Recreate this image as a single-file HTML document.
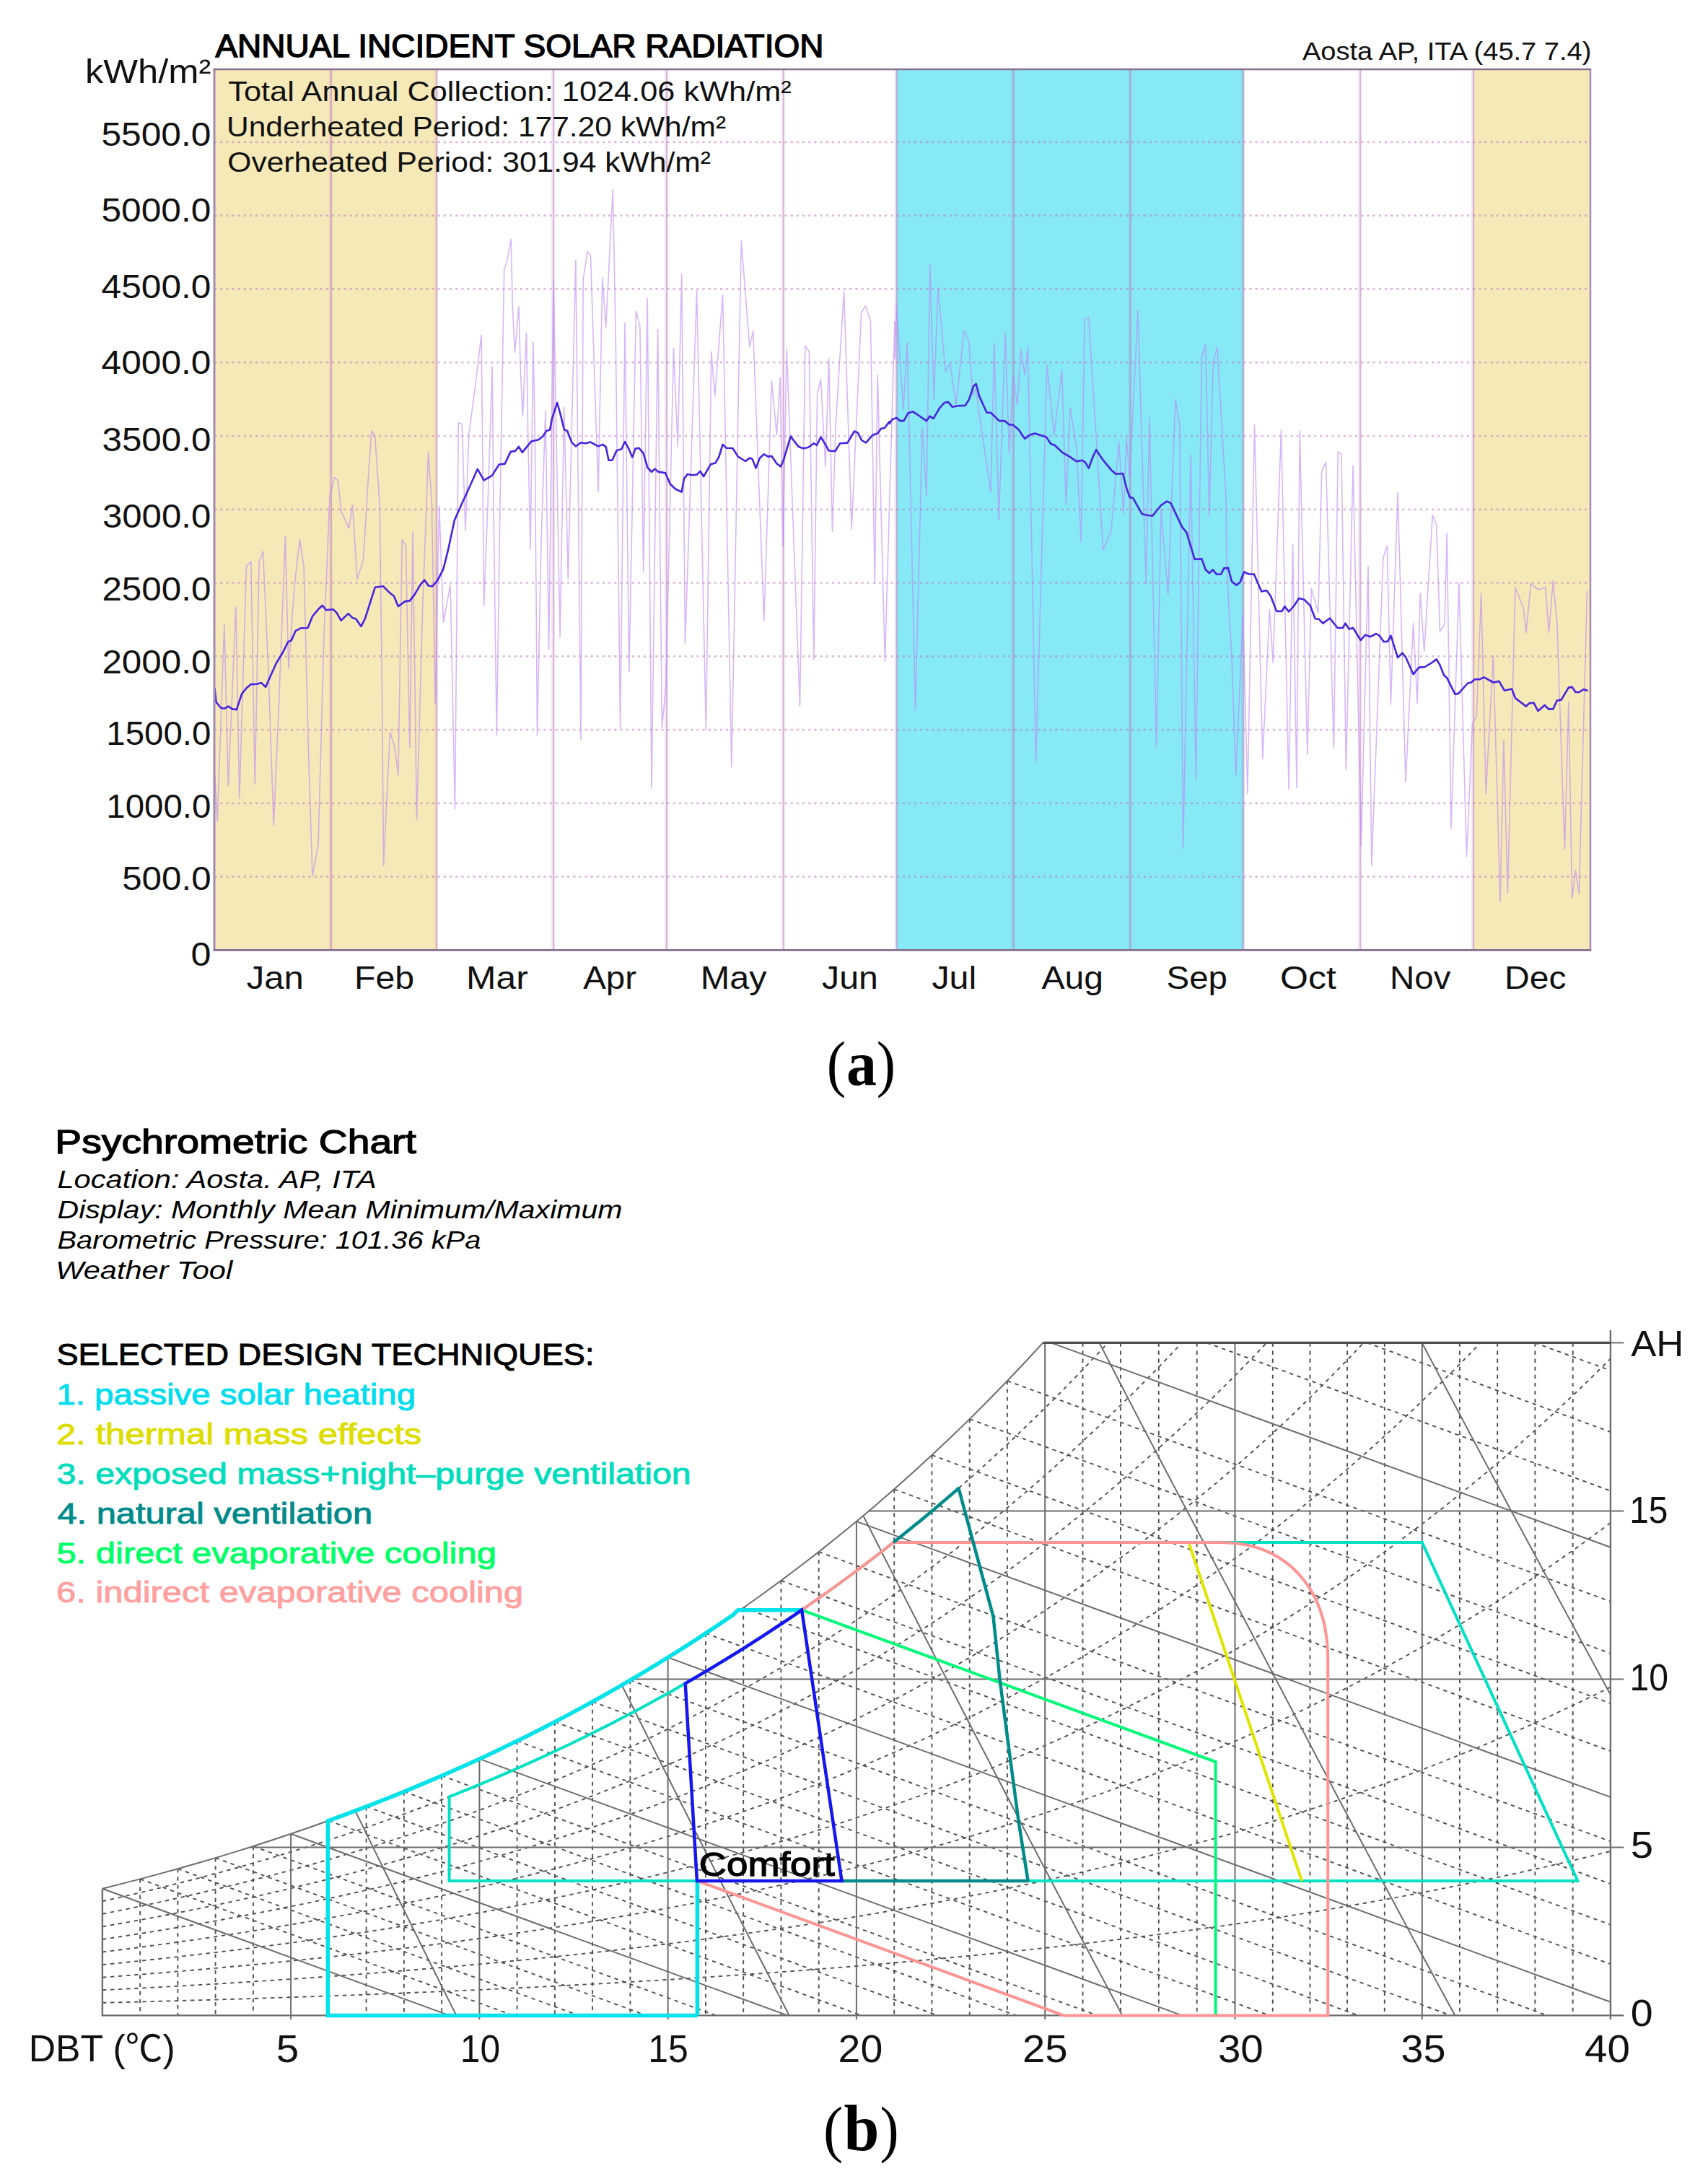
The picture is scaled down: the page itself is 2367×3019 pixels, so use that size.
<!DOCTYPE html>
<html><head><meta charset="utf-8"><title>Figure</title>
<style>html,body{margin:0;padding:0;background:#fff}svg{display:block}</style></head>
<body><svg width="2367" height="3019" viewBox="0 0 2367 3019">
<rect width="2367" height="3019" fill="#fff"/>
<g id="chartA">
<rect x="297.0" y="96.0" width="308.3" height="1220.4" fill="#F6E9B8"/>
<rect x="2042.0" y="96.0" width="162.0" height="1220.4" fill="#F6E9B8"/>
<rect x="1242.7" y="96.0" width="480.7" height="1220.4" fill="#86E9F5"/>
<line x1="297.0" y1="1214.6" x2="2204.0" y2="1214.6" stroke="#BA77BC" stroke-width="2.7" stroke-dasharray="3.2 4.95" stroke-opacity="0.5"/>
<line x1="297.0" y1="1112.9" x2="2204.0" y2="1112.9" stroke="#BA77BC" stroke-width="2.7" stroke-dasharray="3.2 4.95" stroke-opacity="0.5"/>
<line x1="297.0" y1="1011.1" x2="2204.0" y2="1011.1" stroke="#BA77BC" stroke-width="2.7" stroke-dasharray="3.2 4.95" stroke-opacity="0.5"/>
<line x1="297.0" y1="909.3" x2="2204.0" y2="909.3" stroke="#BA77BC" stroke-width="2.7" stroke-dasharray="3.2 4.95" stroke-opacity="0.5"/>
<line x1="297.0" y1="807.5" x2="2204.0" y2="807.5" stroke="#BA77BC" stroke-width="2.7" stroke-dasharray="3.2 4.95" stroke-opacity="0.5"/>
<line x1="297.0" y1="705.8" x2="2204.0" y2="705.8" stroke="#BA77BC" stroke-width="2.7" stroke-dasharray="3.2 4.95" stroke-opacity="0.5"/>
<line x1="297.0" y1="604.0" x2="2204.0" y2="604.0" stroke="#BA77BC" stroke-width="2.7" stroke-dasharray="3.2 4.95" stroke-opacity="0.5"/>
<line x1="297.0" y1="502.2" x2="2204.0" y2="502.2" stroke="#BA77BC" stroke-width="2.7" stroke-dasharray="3.2 4.95" stroke-opacity="0.5"/>
<line x1="297.0" y1="400.4" x2="2204.0" y2="400.4" stroke="#BA77BC" stroke-width="2.7" stroke-dasharray="3.2 4.95" stroke-opacity="0.5"/>
<line x1="297.0" y1="298.7" x2="2204.0" y2="298.7" stroke="#BA77BC" stroke-width="2.7" stroke-dasharray="3.2 4.95" stroke-opacity="0.5"/>
<line x1="297.0" y1="196.9" x2="2204.0" y2="196.9" stroke="#BA77BC" stroke-width="2.7" stroke-dasharray="3.2 4.95" stroke-opacity="0.5"/>
<line x1="456.8" y1="96.0" x2="456.8" y2="1316.4" stroke="#BA77BC" stroke-width="2" stroke-opacity="0.16"/>
<line x1="459.0" y1="96.0" x2="459.0" y2="1316.4" stroke="#BA77BC" stroke-width="2.3" stroke-opacity="0.55"/>
<line x1="603.1" y1="96.0" x2="603.1" y2="1316.4" stroke="#BA77BC" stroke-width="2" stroke-opacity="0.16"/>
<line x1="605.3" y1="96.0" x2="605.3" y2="1316.4" stroke="#BA77BC" stroke-width="2.3" stroke-opacity="0.55"/>
<line x1="765.0" y1="96.0" x2="765.0" y2="1316.4" stroke="#BA77BC" stroke-width="2" stroke-opacity="0.16"/>
<line x1="767.2" y1="96.0" x2="767.2" y2="1316.4" stroke="#BA77BC" stroke-width="2.3" stroke-opacity="0.55"/>
<line x1="921.8" y1="96.0" x2="921.8" y2="1316.4" stroke="#BA77BC" stroke-width="2" stroke-opacity="0.16"/>
<line x1="924.0" y1="96.0" x2="924.0" y2="1316.4" stroke="#BA77BC" stroke-width="2.3" stroke-opacity="0.55"/>
<line x1="1083.7" y1="96.0" x2="1083.7" y2="1316.4" stroke="#BA77BC" stroke-width="2" stroke-opacity="0.16"/>
<line x1="1085.9" y1="96.0" x2="1085.9" y2="1316.4" stroke="#BA77BC" stroke-width="2.3" stroke-opacity="0.55"/>
<line x1="1240.5" y1="96.0" x2="1240.5" y2="1316.4" stroke="#BA77BC" stroke-width="2" stroke-opacity="0.16"/>
<line x1="1242.7" y1="96.0" x2="1242.7" y2="1316.4" stroke="#BA77BC" stroke-width="2.3" stroke-opacity="0.55"/>
<line x1="1402.4" y1="96.0" x2="1402.4" y2="1316.4" stroke="#BA77BC" stroke-width="2" stroke-opacity="0.16"/>
<line x1="1404.6" y1="96.0" x2="1404.6" y2="1316.4" stroke="#BA77BC" stroke-width="2.3" stroke-opacity="0.55"/>
<line x1="1564.4" y1="96.0" x2="1564.4" y2="1316.4" stroke="#BA77BC" stroke-width="2" stroke-opacity="0.16"/>
<line x1="1566.6" y1="96.0" x2="1566.6" y2="1316.4" stroke="#BA77BC" stroke-width="2.3" stroke-opacity="0.55"/>
<line x1="1721.1" y1="96.0" x2="1721.1" y2="1316.4" stroke="#BA77BC" stroke-width="2" stroke-opacity="0.16"/>
<line x1="1723.3" y1="96.0" x2="1723.3" y2="1316.4" stroke="#BA77BC" stroke-width="2.3" stroke-opacity="0.55"/>
<line x1="1883.1" y1="96.0" x2="1883.1" y2="1316.4" stroke="#BA77BC" stroke-width="2" stroke-opacity="0.16"/>
<line x1="1885.3" y1="96.0" x2="1885.3" y2="1316.4" stroke="#BA77BC" stroke-width="2.3" stroke-opacity="0.55"/>
<line x1="2039.8" y1="96.0" x2="2039.8" y2="1316.4" stroke="#BA77BC" stroke-width="2" stroke-opacity="0.16"/>
<line x1="2042.0" y1="96.0" x2="2042.0" y2="1316.4" stroke="#BA77BC" stroke-width="2.3" stroke-opacity="0.55"/>
<polyline points="297.5,1072.0 298.4,1086.8 301.2,1138.2 310.9,865.2 316.3,1088.4 326.9,841.1 331.8,1106.1 341.4,784.9 347.8,778.4 353.3,1086.8 359.1,778.4 364.5,764.0 371.9,929.4 379.3,1143.1 386.4,977.6 395.4,743.1 399.9,926.2 408.2,810.6 415.3,747.9 421.1,784.9 427.5,1041.9 433.0,1213.7 441.0,1170.4 449.0,881.2 457.0,688.5 463.5,661.2 468.3,666.0 473.1,709.4 483.7,731.9 488.5,699.7 495.0,802.5 503.6,775.2 510.1,666.0 514.9,596.9 519.7,605.0 526.1,698.1 529.3,945.5 531.6,1199.3 536.7,1090.1 540.6,1014.6 547.0,1035.4 551.8,1074.0 557.3,747.9 562.4,756.0 567.9,1035.4 572.1,736.7 577.5,1135.0 585.5,849.1 593.6,625.9 598.4,698.1 603.2,974.4 608.7,701.3 614.5,862.0 624.1,810.6 630.5,1120.6 635.3,585.7 640.2,587.3 645.0,735.1 649.8,601.8 658.0,540.0 667.1,464.3 668.5,600.0 670.7,839.5 676.0,700.0 682.2,507.6 684.0,700.0 688.3,1019.0 693.0,700.0 698.7,374.0 703.0,360.0 708.2,331.4 710.4,426.9 713.4,488.5 719.0,424.7 721.4,515.0 724.4,576.7 729.5,461.4 731.7,600.0 735.0,762.0 739.0,473.9 741.3,600.0 744.5,1019.4 750.0,750.0 756.0,569.3 760.6,900.5 767.0,388.7 776.1,882.5 781.8,564.5 787.3,802.2 797.9,360.5 805.0,1024.7 808.2,387.8 814.0,348.6 818.5,354.0 829.1,681.7 834.8,384.6 839.7,453.6 849.3,262.5 853.2,464.9 859.6,1009.3 866.0,447.2 871.8,930.6 881.4,431.1 886.9,452.0 891.7,792.5 897.2,413.5 903.0,1092.2 911.6,456.8 917.4,1007.9 922.9,950.0 933.5,482.5 939.3,619.1 944.7,379.7 949.5,892.1 965.6,402.2 978.4,1010.7 985.8,487.4 990.7,548.4 1001.6,408.7 1013.8,1062.7 1027.3,333.2 1038.8,480.9 1043.7,458.4 1058.8,860.0 1069.4,527.5 1076.4,603.0 1081.2,522.7 1085.1,757.2 1090.2,484.1 1108.5,978.4 1115.9,479.3 1121.4,487.4 1127.8,913.7 1132.6,545.2 1137.5,525.9 1143.9,646.4 1148.7,497.0 1153.5,736.3 1158.3,586.9 1169.6,403.8 1180.2,733.1 1193.7,432.7 1199.5,423.8 1206.5,445.6 1212.3,808.6 1216.2,519.5 1226.4,916.5 1239.9,445.6 1240.2,497.0 1242.2,423.1 1251.8,567.7 1257.3,474.5 1268.5,983.3 1278.2,593.4 1284.0,686.5 1288.8,366.9 1294.2,553.2 1300.0,399.0 1310.3,514.7 1316.7,503.4 1324.8,561.2 1336.0,458.4 1342.4,471.3 1348.2,548.4 1352.1,538.8 1373.0,681.7 1377.8,476.1 1384.2,720.3 1393.2,461.7 1398.7,628.7 1404.1,519.5 1409.9,561.2 1414.7,484.1 1420.2,519.5 1424.4,481.6 1435.6,1055.0 1451.0,506.6 1460.7,603.0 1471.6,513.1 1477.4,699.4 1483.1,564.5 1491.8,619.1 1498.2,750.8 1503.1,442.4 1508.8,439.8 1528.8,762.0 1540.0,734.7 1550.6,612.6 1557.0,712.2 1560.9,606.2 1565.7,660.8 1576.9,429.5 1588.2,808.6 1593.0,578.9 1602.6,1035.0 1609.1,705.8 1618.7,823.1 1629.0,553.2 1634.8,590.2 1639.6,1175.5 1650.2,630.3 1657.3,1080.8 1665.3,493.8 1670.7,477.1 1675.9,715.4 1681.3,500.2 1686.8,480.9 1699.0,689.7 1700.0,784.9 1707.1,913.4 1712.8,1074.0 1722.5,849.1 1728.9,1099.7 1738.5,588.9 1749.8,1051.5 1759.4,844.3 1764.2,918.2 1775.5,595.3 1786.1,1093.3 1791.6,754.4 1797.0,1091.7 1801.2,596.9 1811.8,1045.1 1817.3,815.4 1826.9,849.1 1831.7,653.2 1837.5,640.3 1848.4,1035.4 1854.2,625.9 1859.0,629.1 1865.4,1066.0 1875.1,645.1 1886.3,1172.0 1896.0,784.9 1900.8,1199.3 1916.8,773.6 1922.3,756.0 1927.4,976.0 1937.1,682.1 1948.0,1083.6 1958.6,863.6 1964.1,974.4 1968.2,821.8 1973.7,902.1 1985.3,713.6 1990.7,727.0 1995.5,874.8 2002.0,865.2 2005.2,738.3 2011.0,1147.9 2021.9,807.4 2032.5,1186.4 2040.5,1003.3 2046.3,992.1 2052.7,821.8 2059.2,1099.7 2069.4,908.5 2079.1,1249.1 2083.9,1025.8 2089.3,1237.8 2099.9,813.8 2111.2,842.7 2115.0,876.4 2121.5,809.0 2132.1,817.0 2141.7,813.8 2146.5,876.4 2152.3,804.8 2157.8,862.0 2168.4,1176.8 2173.8,972.8 2178.7,1244.2 2183.5,1205.7 2188.3,1237.8 2199.5,818.6" fill="none" stroke="#BC85F5" stroke-opacity="0.6" stroke-width="1.6" stroke-linejoin="round"/>
<polyline points="297.5,953.5 297.8,956.7 299.6,972.8 306.1,980.8 310.9,981.8 316.3,978.6 322.1,982.4 327.9,983.1 335.0,961.6 341.4,953.5 347.8,948.1 355.9,947.7 362.3,946.1 368.1,951.9 375.1,935.9 383.2,918.2 391.2,905.3 399.2,889.3 404.0,887.0 409.5,874.2 416.9,870.3 426.5,870.0 433.0,853.9 441.0,844.3 446.8,838.8 452.2,845.3 461.9,844.3 466.7,849.1 472.5,859.7 482.7,850.1 488.5,856.2 493.0,857.2 500.4,867.8 505.9,857.2 519.7,813.8 530.9,812.2 540.6,821.8 546.0,826.0 551.8,840.1 561.5,833.1 567.9,832.4 574.3,824.1 582.3,810.6 588.1,803.5 593.6,811.5 599.4,812.2 606.4,804.1 614.5,788.1 620.9,762.4 629.9,720.6 638.5,701.3 646.6,683.7 654.6,666.0 661.7,649.9 670.7,665.4 681.9,658.9 691.6,643.5 699.6,642.6 707.6,625.9 714.0,624.9 718.9,618.8 723.7,626.8 736.5,611.4 746.2,609.2 751.9,605.0 757.4,596.9 762.2,595.3 764.8,580.5 772.2,558.0 776.7,574.1 781.8,595.0 786.3,597.2 792.1,612.6 797.9,618.4 805.0,613.3 811.4,614.2 818.5,612.6 829.1,618.4 835.5,615.9 839.7,619.1 843.5,637.7 848.3,637.7 854.8,623.9 861.2,622.3 866.0,612.0 870.8,620.7 876.3,633.5 880.5,621.6 885.3,620.7 891.7,628.1 897.5,648.0 903.0,653.8 907.8,649.6 911.6,653.4 922.2,655.4 928.7,670.5 936.0,677.5 944.7,681.7 947.9,663.4 952.7,657.0 959.2,658.3 965.6,657.6 970.4,652.8 975.2,660.2 984.9,643.2 991.3,641.6 996.1,633.5 1001.6,615.9 1006.7,620.7 1015.4,621.0 1022.8,632.6 1033.1,639.0 1038.8,634.5 1042.7,636.1 1047.5,648.6 1053.0,634.5 1058.8,629.3 1064.5,632.6 1069.4,631.9 1076.4,642.2 1081.9,646.4 1086.1,636.7 1095.7,604.6 1100.5,611.0 1106.9,619.1 1113.4,621.3 1120.4,619.7 1127.8,614.2 1132.0,616.8 1137.5,605.6 1142.9,614.2 1148.7,624.5 1157.7,624.9 1164.1,614.2 1174.4,613.6 1184.0,597.5 1188.9,599.8 1194.3,610.1 1200.1,613.3 1209.7,602.4 1216.2,600.4 1221.0,594.0 1226.4,592.4 1232.2,584.4 1232.5,586.9 1236.4,581.2 1242.2,578.9 1247.7,583.1 1252.5,583.1 1258.3,572.5 1264.7,570.2 1271.8,574.7 1284.0,583.1 1288.5,576.7 1293.6,579.9 1302.3,565.1 1308.7,558.0 1314.2,557.1 1319.9,563.8 1328.0,562.2 1337.6,561.9 1343.1,553.2 1348.9,535.5 1352.7,531.7 1356.9,548.4 1367.5,571.8 1373.0,571.8 1384.8,583.1 1392.2,583.1 1398.7,588.5 1403.5,588.5 1411.5,595.0 1420.2,607.8 1427.6,602.4 1434.0,600.4 1442.0,603.0 1450.1,605.6 1456.5,615.2 1461.3,616.5 1472.5,627.1 1482.2,632.6 1491.8,639.3 1499.8,637.7 1504.0,640.6 1508.8,648.6 1514.3,633.5 1519.1,623.2 1528.8,637.7 1540.0,651.2 1546.4,656.7 1556.1,656.0 1560.9,675.3 1565.7,689.1 1569.9,689.7 1582.7,712.2 1589.8,713.8 1597.2,714.8 1609.1,700.0 1617.1,694.6 1622.6,697.1 1638.0,729.9 1644.4,737.9 1655.6,774.9 1665.3,774.2 1670.7,789.3 1675.9,794.1 1680.7,789.3 1686.2,795.8 1691.9,795.8 1696.4,787.1 1701.6,787.1 1701.9,786.5 1707.1,805.8 1713.5,810.6 1718.6,806.7 1724.1,792.3 1730.5,795.5 1737.9,795.5 1748.2,819.6 1755.3,818.0 1761.0,826.0 1769.1,846.9 1776.5,846.9 1780.3,840.1 1786.1,847.5 1793.2,839.5 1800.2,828.9 1807.6,830.8 1815.6,838.8 1822.7,857.2 1827.9,857.8 1833.3,863.6 1843.0,856.5 1853.6,870.0 1860.6,870.0 1864.5,863.6 1869.6,871.6 1875.1,870.0 1885.7,887.0 1892.1,879.6 1899.2,882.2 1907.2,878.0 1912.0,881.2 1917.8,889.3 1923.3,888.6 1927.4,880.6 1937.1,911.1 1943.5,904.7 1948.0,910.2 1958.6,934.2 1966.6,924.6 1974.7,924.0 1982.7,919.2 1990.7,913.4 1995.5,921.4 2001.3,935.9 2005.2,939.1 2016.4,961.6 2021.2,960.9 2034.1,946.5 2038.9,945.5 2043.7,941.3 2050.2,941.3 2056.6,938.4 2069.4,945.5 2077.5,943.9 2084.9,956.7 2095.1,954.5 2099.9,967.3 2115.0,978.6 2119.2,974.4 2125.6,973.8 2131.4,985.0 2140.7,977.0 2145.9,982.4 2152.3,982.4 2157.8,970.5 2163.6,969.6 2173.8,952.6 2178.7,951.9 2183.5,959.0 2188.3,959.0 2194.7,955.1 2199.5,956.7" fill="none" stroke="#4624E0" stroke-width="2.6" stroke-linejoin="round" stroke-linecap="round"/>
<line x1="297.0" y1="96.0" x2="297.0" y2="1316.4" stroke="#A58AB5" stroke-width="3"/>
<line x1="2204.0" y1="96.0" x2="2204.0" y2="1316.4" stroke="#A58AB5" stroke-width="2.5"/>
<line x1="295.5" y1="96.0" x2="2205.2" y2="96.0" stroke="#86708F" stroke-width="2.4"/>
<line x1="295.5" y1="1316.4" x2="2205.2" y2="1316.4" stroke="#86708F" stroke-width="2.6"/>
<text x="298.4" y="79.2" font-family='"Liberation Sans","Noto Sans CJK SC",sans-serif' font-size="44" fill="#000" font-weight="normal" font-style="normal" text-anchor="start" textLength="843.2" lengthAdjust="spacingAndGlyphs" stroke="#000" stroke-width="1.4">ANNUAL INCIDENT SOLAR RADIATION</text>
<text x="117.9" y="114.5" font-family='"Liberation Sans","Noto Sans CJK SC",sans-serif' font-size="47" fill="#111" font-weight="normal" font-style="normal" text-anchor="start" textLength="174.5" lengthAdjust="spacingAndGlyphs">kWh/m²</text>
<text x="316.3" y="140.0" font-family='"Liberation Sans","Noto Sans CJK SC",sans-serif' font-size="39.5" fill="#111" font-weight="normal" font-style="normal" text-anchor="start" textLength="780.4" lengthAdjust="spacingAndGlyphs">Total Annual Collection: 1024.06 kWh/m²</text>
<text x="314.0" y="189.0" font-family='"Liberation Sans","Noto Sans CJK SC",sans-serif' font-size="39.5" fill="#111" font-weight="normal" font-style="normal" text-anchor="start" textLength="692.1" lengthAdjust="spacingAndGlyphs">Underheated Period: 177.20 kWh/m²</text>
<text x="315.3" y="237.8" font-family='"Liberation Sans","Noto Sans CJK SC",sans-serif' font-size="39.5" fill="#111" font-weight="normal" font-style="normal" text-anchor="start" textLength="669.6" lengthAdjust="spacingAndGlyphs">Overheated Period: 301.94 kWh/m²</text>
<text x="1805.0" y="82.6" font-family='"Liberation Sans","Noto Sans CJK SC",sans-serif' font-size="35" fill="#111" font-weight="normal" font-style="normal" text-anchor="start" textLength="400.4" lengthAdjust="spacingAndGlyphs">Aosta AP, ITA (45.7 7.4)</text>
<text x="140.4" y="201.8" font-family='"Liberation Sans","Noto Sans CJK SC",sans-serif' font-size="45.5" fill="#111" font-weight="normal" font-style="normal" text-anchor="start" textLength="152.1" lengthAdjust="spacingAndGlyphs">5500.0</text>
<text x="140.4" y="306.9" font-family='"Liberation Sans","Noto Sans CJK SC",sans-serif' font-size="45.5" fill="#111" font-weight="normal" font-style="normal" text-anchor="start" textLength="152.1" lengthAdjust="spacingAndGlyphs">5000.0</text>
<text x="140.5" y="412.9" font-family='"Liberation Sans","Noto Sans CJK SC",sans-serif' font-size="45.5" fill="#111" font-weight="normal" font-style="normal" text-anchor="start" textLength="152.0" lengthAdjust="spacingAndGlyphs">4500.0</text>
<text x="140.5" y="518.3" font-family='"Liberation Sans","Noto Sans CJK SC",sans-serif' font-size="45.5" fill="#111" font-weight="normal" font-style="normal" text-anchor="start" textLength="152.0" lengthAdjust="spacingAndGlyphs">4000.0</text>
<text x="141.5" y="624.9" font-family='"Liberation Sans","Noto Sans CJK SC",sans-serif' font-size="45.5" fill="#111" font-weight="normal" font-style="normal" text-anchor="start" textLength="150.9" lengthAdjust="spacingAndGlyphs">3500.0</text>
<text x="141.9" y="731.2" font-family='"Liberation Sans","Noto Sans CJK SC",sans-serif' font-size="45.5" fill="#111" font-weight="normal" font-style="normal" text-anchor="start" textLength="150.5" lengthAdjust="spacingAndGlyphs">3000.0</text>
<text x="141.4" y="831.8" font-family='"Liberation Sans","Noto Sans CJK SC",sans-serif' font-size="45.5" fill="#111" font-weight="normal" font-style="normal" text-anchor="start" textLength="151.0" lengthAdjust="spacingAndGlyphs">2500.0</text>
<text x="141.4" y="932.6" font-family='"Liberation Sans","Noto Sans CJK SC",sans-serif' font-size="45.5" fill="#111" font-weight="normal" font-style="normal" text-anchor="start" textLength="151.0" lengthAdjust="spacingAndGlyphs">2000.0</text>
<text x="147.3" y="1032.3" font-family='"Liberation Sans","Noto Sans CJK SC",sans-serif' font-size="45.5" fill="#111" font-weight="normal" font-style="normal" text-anchor="start" textLength="145.1" lengthAdjust="spacingAndGlyphs">1500.0</text>
<text x="147.3" y="1133.1" font-family='"Liberation Sans","Noto Sans CJK SC",sans-serif' font-size="45.5" fill="#111" font-weight="normal" font-style="normal" text-anchor="start" textLength="145.1" lengthAdjust="spacingAndGlyphs">1000.0</text>
<text x="169.2" y="1233.1" font-family='"Liberation Sans","Noto Sans CJK SC",sans-serif' font-size="45.5" fill="#111" font-weight="normal" font-style="normal" text-anchor="start" textLength="123.4" lengthAdjust="spacingAndGlyphs">500.0</text>
<text x="264.6" y="1337.6" font-family='"Liberation Sans","Noto Sans CJK SC",sans-serif' font-size="45.5" fill="#111" font-weight="normal" font-style="normal" text-anchor="start" textLength="28.0" lengthAdjust="spacingAndGlyphs">0</text>
<text x="341.7" y="1369.7" font-family='"Liberation Sans","Noto Sans CJK SC",sans-serif' font-size="45" fill="#111" font-weight="normal" font-style="normal" text-anchor="start" textLength="79.2" lengthAdjust="spacingAndGlyphs">Jan</text>
<text x="491.0" y="1369.7" font-family='"Liberation Sans","Noto Sans CJK SC",sans-serif' font-size="45" fill="#111" font-weight="normal" font-style="normal" text-anchor="start" textLength="83.1" lengthAdjust="spacingAndGlyphs">Feb</text>
<text x="646.1" y="1369.7" font-family='"Liberation Sans","Noto Sans CJK SC",sans-serif' font-size="45" fill="#111" font-weight="normal" font-style="normal" text-anchor="start" textLength="85.6" lengthAdjust="spacingAndGlyphs">Mar</text>
<text x="808.2" y="1369.7" font-family='"Liberation Sans","Noto Sans CJK SC",sans-serif' font-size="45" fill="#111" font-weight="normal" font-style="normal" text-anchor="start" textLength="73.9" lengthAdjust="spacingAndGlyphs">Apr</text>
<text x="970.8" y="1369.7" font-family='"Liberation Sans","Noto Sans CJK SC",sans-serif' font-size="45" fill="#111" font-weight="normal" font-style="normal" text-anchor="start" textLength="91.7" lengthAdjust="spacingAndGlyphs">May</text>
<text x="1139.1" y="1369.7" font-family='"Liberation Sans","Noto Sans CJK SC",sans-serif' font-size="45" fill="#111" font-weight="normal" font-style="normal" text-anchor="start" textLength="77.8" lengthAdjust="spacingAndGlyphs">Jun</text>
<text x="1291.4" y="1369.7" font-family='"Liberation Sans","Noto Sans CJK SC",sans-serif' font-size="45" fill="#111" font-weight="normal" font-style="normal" text-anchor="start" textLength="61.9" lengthAdjust="spacingAndGlyphs">Jul</text>
<text x="1443.4" y="1369.7" font-family='"Liberation Sans","Noto Sans CJK SC",sans-serif' font-size="45" fill="#111" font-weight="normal" font-style="normal" text-anchor="start" textLength="85.6" lengthAdjust="spacingAndGlyphs">Aug</text>
<text x="1616.5" y="1369.7" font-family='"Liberation Sans","Noto Sans CJK SC",sans-serif' font-size="45" fill="#111" font-weight="normal" font-style="normal" text-anchor="start" textLength="84.5" lengthAdjust="spacingAndGlyphs">Sep</text>
<text x="1774.1" y="1369.7" font-family='"Liberation Sans","Noto Sans CJK SC",sans-serif' font-size="45" fill="#111" font-weight="normal" font-style="normal" text-anchor="start" textLength="77.9" lengthAdjust="spacingAndGlyphs">Oct</text>
<text x="1925.9" y="1369.7" font-family='"Liberation Sans","Noto Sans CJK SC",sans-serif' font-size="45" fill="#111" font-weight="normal" font-style="normal" text-anchor="start" textLength="84.5" lengthAdjust="spacingAndGlyphs">Nov</text>
<text x="2085.0" y="1369.7" font-family='"Liberation Sans","Noto Sans CJK SC",sans-serif' font-size="45" fill="#111" font-weight="normal" font-style="normal" text-anchor="start" textLength="85.5" lengthAdjust="spacingAndGlyphs">Dec</text>
<text y="1502.6" font-family='"Liberation Serif",serif' fill="#000"><tspan x="1145.7" font-size="86" font-weight="normal" textLength="26.4" lengthAdjust="spacingAndGlyphs">(</tspan><tspan x="1173.1" font-size="88" font-weight="bold" textLength="41.9" lengthAdjust="spacingAndGlyphs">a</tspan><tspan x="1214.8" font-size="86" font-weight="normal" textLength="26.3" lengthAdjust="spacingAndGlyphs">)</tspan></text>
</g>
<defs><filter id="soft" x="-2%" y="-2%" width="104%" height="104%"><feGaussianBlur stdDeviation="0.6"/></filter></defs>
<g id="chartB" fill="none" stroke-linecap="butt">
<g filter="url(#soft)">
<line x1="194.2" y1="2603.4" x2="194.2" y2="2792.4" stroke="#505050" stroke-width="1.9" stroke-dasharray="5.4 5.7"/>
<line x1="246.4" y1="2589.2" x2="246.4" y2="2792.4" stroke="#505050" stroke-width="1.9" stroke-dasharray="5.4 5.7"/>
<line x1="298.6" y1="2574.1" x2="298.6" y2="2792.4" stroke="#505050" stroke-width="1.9" stroke-dasharray="5.4 5.7"/>
<line x1="350.9" y1="2558.0" x2="350.9" y2="2792.4" stroke="#505050" stroke-width="1.9" stroke-dasharray="5.4 5.7"/>
<line x1="455.4" y1="2522.5" x2="455.4" y2="2792.4" stroke="#505050" stroke-width="1.9" stroke-dasharray="5.4 5.7"/>
<line x1="507.6" y1="2503.0" x2="507.6" y2="2792.4" stroke="#505050" stroke-width="1.9" stroke-dasharray="5.4 5.7"/>
<line x1="559.9" y1="2482.3" x2="559.9" y2="2792.4" stroke="#505050" stroke-width="1.9" stroke-dasharray="5.4 5.7"/>
<line x1="612.1" y1="2460.3" x2="612.1" y2="2792.4" stroke="#505050" stroke-width="1.9" stroke-dasharray="5.4 5.7"/>
<line x1="716.6" y1="2412.1" x2="716.6" y2="2792.4" stroke="#505050" stroke-width="1.9" stroke-dasharray="5.4 5.7"/>
<line x1="768.9" y1="2385.7" x2="768.9" y2="2792.4" stroke="#505050" stroke-width="1.9" stroke-dasharray="5.4 5.7"/>
<line x1="821.1" y1="2357.7" x2="821.1" y2="2792.4" stroke="#505050" stroke-width="1.9" stroke-dasharray="5.4 5.7"/>
<line x1="873.4" y1="2327.9" x2="873.4" y2="2792.4" stroke="#505050" stroke-width="1.9" stroke-dasharray="5.4 5.7"/>
<line x1="977.9" y1="2262.9" x2="977.9" y2="2792.4" stroke="#505050" stroke-width="1.9" stroke-dasharray="5.4 5.7"/>
<line x1="1030.2" y1="2227.5" x2="1030.2" y2="2792.4" stroke="#505050" stroke-width="1.9" stroke-dasharray="5.4 5.7"/>
<line x1="1082.4" y1="2189.9" x2="1082.4" y2="2792.4" stroke="#505050" stroke-width="1.9" stroke-dasharray="5.4 5.7"/>
<line x1="1134.7" y1="2150.1" x2="1134.7" y2="2792.4" stroke="#505050" stroke-width="1.9" stroke-dasharray="5.4 5.7"/>
<line x1="1239.2" y1="2063.3" x2="1239.2" y2="2792.4" stroke="#505050" stroke-width="1.9" stroke-dasharray="5.4 5.7"/>
<line x1="1291.4" y1="2016.1" x2="1291.4" y2="2792.4" stroke="#505050" stroke-width="1.9" stroke-dasharray="5.4 5.7"/>
<line x1="1343.7" y1="1966.1" x2="1343.7" y2="2792.4" stroke="#505050" stroke-width="1.9" stroke-dasharray="5.4 5.7"/>
<line x1="1395.9" y1="1913.2" x2="1395.9" y2="2792.4" stroke="#505050" stroke-width="1.9" stroke-dasharray="5.4 5.7"/>
<line x1="1500.5" y1="1860.4" x2="1500.5" y2="2792.4" stroke="#505050" stroke-width="1.9" stroke-dasharray="5.4 5.7"/>
<line x1="1553.0" y1="1860.4" x2="1553.0" y2="2792.4" stroke="#505050" stroke-width="1.9" stroke-dasharray="5.4 5.7"/>
<line x1="1605.8" y1="1860.4" x2="1605.8" y2="2792.4" stroke="#505050" stroke-width="1.9" stroke-dasharray="5.4 5.7"/>
<line x1="1658.7" y1="1860.4" x2="1658.7" y2="2792.4" stroke="#505050" stroke-width="1.9" stroke-dasharray="5.4 5.7"/>
<line x1="1763.8" y1="1860.4" x2="1763.8" y2="2792.4" stroke="#505050" stroke-width="1.9" stroke-dasharray="5.4 5.7"/>
<line x1="1815.5" y1="1860.4" x2="1815.5" y2="2792.4" stroke="#505050" stroke-width="1.9" stroke-dasharray="5.4 5.7"/>
<line x1="1867.0" y1="1860.4" x2="1867.0" y2="2792.4" stroke="#505050" stroke-width="1.9" stroke-dasharray="5.4 5.7"/>
<line x1="1918.8" y1="1860.4" x2="1918.8" y2="2792.4" stroke="#505050" stroke-width="1.9" stroke-dasharray="5.4 5.7"/>
<line x1="2022.9" y1="1860.4" x2="2022.9" y2="2792.4" stroke="#505050" stroke-width="1.9" stroke-dasharray="5.4 5.7"/>
<line x1="2075.2" y1="1860.4" x2="2075.2" y2="2792.4" stroke="#505050" stroke-width="1.9" stroke-dasharray="5.4 5.7"/>
<line x1="2127.4" y1="1860.4" x2="2127.4" y2="2792.4" stroke="#505050" stroke-width="1.9" stroke-dasharray="5.4 5.7"/>
<line x1="2179.7" y1="1860.4" x2="2179.7" y2="2792.4" stroke="#505050" stroke-width="1.9" stroke-dasharray="5.4 5.7"/>
<polyline points="141.9,2774.8 168.0,2774.2 194.2,2773.5 220.3,2772.8 246.4,2772.1 272.5,2771.3 298.6,2770.6 324.8,2769.8 350.9,2769.0 377.0,2768.1 403.1,2767.2 429.3,2766.3 455.4,2765.4 481.5,2764.5 507.6,2763.5 533.8,2762.4 559.9,2761.4 586.0,2760.3 612.1,2759.2 638.3,2758.0 664.4,2756.9 690.5,2755.6 716.6,2754.4 742.8,2753.1 768.9,2751.7 795.0,2750.3 821.1,2748.9 847.3,2747.5 873.4,2746.0 899.5,2744.4 925.6,2742.8 951.8,2741.2 977.9,2739.5 1004.0,2737.7 1030.2,2735.9 1056.3,2734.1 1082.4,2732.2 1108.5,2730.2 1134.7,2728.2 1160.8,2726.1 1186.9,2724.0 1213.0,2721.8 1239.2,2719.5 1265.3,2717.2 1291.4,2714.8 1317.5,2712.3 1343.7,2709.8 1369.8,2707.2 1395.9,2704.5 1422.0,2701.7 1448.2,2698.9 1474.3,2696.0 1500.5,2693.0 1526.7,2689.9 1553.0,2686.7 1579.4,2683.5 1605.8,2680.1 1632.2,2676.7 1658.7,2673.1 1685.2,2669.5 1711.5,2665.8 1737.7,2661.9 1763.8,2658.0 1789.7,2653.9 1815.5,2649.7 1841.2,2645.5 1867.0,2641.0 1892.9,2636.5 1918.8,2631.9 1944.7,2627.1 1970.8,2622.2 1996.8,2617.1 2022.9,2611.9 2049.0,2606.6 2075.2,2601.1 2101.3,2595.5 2127.4,2589.7 2153.5,2583.8 2179.7,2577.7 2205.8,2571.4 2231.9,2564.9" stroke="#505050" stroke-width="1.9" stroke-dasharray="5.4 5.7"/>
<polyline points="141.9,2757.3 168.0,2755.9 194.2,2754.6 220.3,2753.2 246.4,2751.8 272.5,2750.3 298.6,2748.7 324.8,2747.1 350.9,2745.5 377.0,2743.8 403.1,2742.1 429.3,2740.3 455.4,2738.4 481.5,2736.5 507.6,2734.5 533.8,2732.5 559.9,2730.4 586.0,2728.2 612.1,2726.0 638.3,2723.7 664.4,2721.3 690.5,2718.9 716.6,2716.3 742.8,2713.7 768.9,2711.1 795.0,2708.3 821.1,2705.5 847.3,2702.5 873.4,2699.5 899.5,2696.4 925.6,2693.2 951.8,2689.9 977.9,2686.5 1004.0,2683.0 1030.2,2679.4 1056.3,2675.7 1082.4,2671.9 1108.5,2668.0 1134.7,2663.9 1160.8,2659.8 1186.9,2655.5 1213.0,2651.1 1239.2,2646.6 1265.3,2641.9 1291.4,2637.1 1317.5,2632.2 1343.7,2627.1 1369.8,2621.9 1395.9,2616.6 1422.0,2611.1 1448.2,2605.4 1474.3,2599.6 1500.5,2593.6 1526.7,2587.4 1553.0,2581.1 1579.4,2574.5 1605.8,2567.8 1632.2,2561.0 1658.7,2553.9 1685.2,2546.6 1711.5,2539.1 1737.7,2531.4 1763.8,2523.5 1789.7,2515.4 1815.5,2507.1 1841.2,2498.5 1867.0,2489.7 1892.9,2480.6 1918.8,2471.3 1944.7,2461.8 1970.8,2451.9 1996.8,2441.8 2022.9,2431.5 2049.0,2420.8 2075.2,2409.8 2101.3,2398.6 2127.4,2387.0 2153.5,2375.1 2179.7,2362.9 2205.8,2350.4 2231.9,2337.5" stroke="#505050" stroke-width="1.9" stroke-dasharray="5.4 5.7"/>
<polyline points="141.9,2739.7 168.0,2737.7 194.2,2735.7 220.3,2733.6 246.4,2731.4 272.5,2729.2 298.6,2726.9 324.8,2724.5 350.9,2722.1 377.0,2719.5 403.1,2716.9 429.3,2714.2 455.4,2711.4 481.5,2708.6 507.6,2705.6 533.8,2702.5 559.9,2699.4 586.0,2696.1 612.1,2692.8 638.3,2689.3 664.4,2685.8 690.5,2682.1 716.6,2678.3 742.8,2674.4 768.9,2670.4 795.0,2666.2 821.1,2662.0 847.3,2657.6 873.4,2653.1 899.5,2648.4 925.6,2643.6 951.8,2638.7 977.9,2633.6 1004.0,2628.3 1030.2,2622.9 1056.3,2617.4 1082.4,2611.7 1108.5,2605.8 1134.7,2599.7 1160.8,2593.5 1186.9,2587.1 1213.0,2580.5 1239.2,2573.7 1265.3,2566.7 1291.4,2559.5 1317.5,2552.1 1343.7,2544.5 1369.8,2536.7 1395.9,2528.6 1422.0,2520.4 1448.2,2511.9 1474.3,2503.1 1500.5,2494.1 1526.7,2484.9 1553.0,2475.4 1579.4,2465.6 1605.8,2455.6 1632.2,2445.2 1658.7,2434.6 1685.2,2423.7 1711.5,2412.5 1737.7,2401.0 1763.8,2389.1 1789.7,2376.9 1815.5,2364.4 1841.2,2351.6 1867.0,2338.3 1892.9,2324.8 1918.8,2310.8 1944.7,2296.4 1970.8,2281.7 1996.8,2266.6 2022.9,2251.0 2049.0,2235.0 2075.2,2218.6 2101.3,2201.7 2127.4,2184.3 2153.5,2166.5 2179.7,2148.2 2205.8,2129.3 2231.9,2110.0" stroke="#505050" stroke-width="1.9" stroke-dasharray="5.4 5.7"/>
<polyline points="141.9,2722.1 168.0,2719.5 194.2,2716.8 220.3,2714.0 246.4,2711.1 272.5,2708.1 298.6,2705.1 324.8,2701.9 350.9,2698.6 377.0,2695.2 403.1,2691.8 429.3,2688.2 455.4,2684.4 481.5,2680.6 507.6,2676.7 533.8,2672.6 559.9,2668.4 586.0,2664.0 612.1,2659.6 638.3,2655.0 664.4,2650.2 690.5,2645.3 716.6,2640.3 742.8,2635.1 768.9,2629.7 795.0,2624.2 821.1,2618.5 847.3,2612.6 873.4,2606.6 899.5,2600.4 925.6,2594.0 951.8,2587.4 977.9,2580.6 1004.0,2573.6 1030.2,2566.4 1056.3,2559.0 1082.4,2551.4 1108.5,2543.6 1134.7,2535.5 1160.8,2527.2 1186.9,2518.6 1213.0,2509.8 1239.2,2500.8 1265.3,2491.5 1291.4,2481.9 1317.5,2472.0 1343.7,2461.9 1369.8,2451.5 1395.9,2440.7 1422.0,2429.7 1448.2,2418.4 1474.3,2406.7 1500.5,2394.7 1526.7,2382.4 1553.0,2369.7 1579.4,2356.7 1605.8,2343.3 1632.2,2329.5 1658.7,2315.4 1685.2,2300.8 1711.5,2285.9 1737.7,2270.5 1763.8,2254.7 1789.7,2238.4 1815.5,2221.8 1841.2,2204.6 1867.0,2187.0 1892.9,2168.9 1918.8,2150.3 1944.7,2131.1 1970.8,2111.5 1996.8,2091.3 2022.9,2070.5 2049.0,2049.2 2075.2,2027.3 2101.3,2004.8 2127.4,1981.6 2153.5,1957.9 2179.7,1933.4 2205.8,1908.3 2231.9,1882.5" stroke="#505050" stroke-width="1.9" stroke-dasharray="5.4 5.7"/>
<polyline points="141.9,2704.5 168.0,2701.3 194.2,2697.9 220.3,2694.4 246.4,2690.8 272.5,2687.1 298.6,2683.2 324.8,2679.3 350.9,2675.2 377.0,2671.0 403.1,2666.6 429.3,2662.1 455.4,2657.5 481.5,2652.7 507.6,2647.7 533.8,2642.6 559.9,2637.4 586.0,2632.0 612.1,2626.4 638.3,2620.6 664.4,2614.7 690.5,2608.6 716.6,2602.2 742.8,2595.7 768.9,2589.0 795.0,2582.1 821.1,2575.0 847.3,2567.7 873.4,2560.2 899.5,2552.4 925.6,2544.4 951.8,2536.2 977.9,2527.7 1004.0,2518.9 1030.2,2509.9 1056.3,2500.7 1082.4,2491.2 1108.5,2481.3 1134.7,2471.3 1160.8,2460.9 1186.9,2450.2 1213.0,2439.2 1239.2,2427.9 1265.3,2416.2 1291.4,2404.2 1317.5,2391.9 1343.7,2379.3 1369.8,2366.2 1395.9,2352.8 1422.0,2339.0 1448.2,2324.9 1474.3,2310.3 1500.5,2295.3 1526.7,2279.9 1553.0,2264.0 1579.4,2247.7 1605.8,2231.0 1632.2,2213.8 1658.7,2196.1 1685.2,2177.9 1711.5,2159.2 1737.7,2140.0 1763.8,2120.3 1789.7,2100.0 1815.5,2079.1 1841.2,2057.7 1867.0,2035.6 1892.9,2013.0 1918.8,1989.7 1944.7,1965.8 1970.8,1941.2 1996.8,1916.0 2022.9,1890.1 2049.0,1863.4 2051.9,1860.4" stroke="#505050" stroke-width="1.9" stroke-dasharray="5.4 5.7"/>
<polyline points="141.9,2687.0 168.0,2683.0 194.2,2679.0 220.3,2674.8 246.4,2670.5 272.5,2666.0 298.6,2661.4 324.8,2656.6 350.9,2651.7 377.0,2646.7 403.1,2641.4 429.3,2636.0 455.4,2630.5 481.5,2624.7 507.6,2618.8 533.8,2612.7 559.9,2606.4 586.0,2599.9 612.1,2593.2 638.3,2586.3 664.4,2579.1 690.5,2571.8 716.6,2564.2 742.8,2556.4 768.9,2548.4 795.0,2540.1 821.1,2531.6 847.3,2522.8 873.4,2513.7 899.5,2504.4 925.6,2494.8 951.8,2484.9 977.9,2474.7 1004.0,2464.2 1030.2,2453.4 1056.3,2442.3 1082.4,2430.9 1108.5,2419.1 1134.7,2407.0 1160.8,2394.6 1186.9,2381.7 1213.0,2368.5 1239.2,2355.0 1265.3,2341.0 1291.4,2326.6 1317.5,2311.8 1343.7,2296.6 1369.8,2281.0 1395.9,2264.9 1422.0,2248.4 1448.2,2231.3 1474.3,2213.9 1500.5,2195.9 1526.7,2177.4 1553.0,2158.4 1579.4,2138.8 1605.8,2118.7 1632.2,2098.1 1658.7,2076.8 1685.2,2055.0 1711.5,2032.6 1737.7,2009.5 1763.8,1985.8 1789.7,1961.5 1815.5,1936.4 1841.2,1910.7 1867.0,1884.3 1889.8,1860.4" stroke="#505050" stroke-width="1.9" stroke-dasharray="5.4 5.7"/>
<polyline points="141.9,2669.4 168.0,2664.8 194.2,2660.1 220.3,2655.2 246.4,2650.2 272.5,2645.0 298.6,2639.6 324.8,2634.0 350.9,2628.3 377.0,2622.4 403.1,2616.3 429.3,2610.0 455.4,2603.5 481.5,2596.8 507.6,2589.9 533.8,2582.7 559.9,2575.4 586.0,2567.8 612.1,2560.0 638.3,2551.9 664.4,2543.6 690.5,2535.0 716.6,2526.2 742.8,2517.1 768.9,2507.7 795.0,2498.0 821.1,2488.1 847.3,2477.8 873.4,2467.3 899.5,2456.4 925.6,2445.2 951.8,2433.7 977.9,2421.8 1004.0,2409.5 1030.2,2397.0 1056.3,2384.0 1082.4,2370.7 1108.5,2356.9 1134.7,2342.8 1160.8,2328.2 1186.9,2313.3 1213.0,2297.9 1239.2,2282.0 1265.3,2265.7 1291.4,2249.0 1317.5,2231.7 1343.7,2214.0 1369.8,2195.7 1395.9,2177.0 1422.0,2157.7 1448.2,2137.8 1474.3,2117.4 1500.5,2096.4 1526.7,2074.9 1553.0,2052.7 1579.4,2029.9 1605.8,2006.4 1632.2,1982.3 1658.7,1957.6 1685.2,1932.1 1711.5,1905.9 1737.7,1879.0 1755.4,1860.4" stroke="#505050" stroke-width="1.9" stroke-dasharray="5.4 5.7"/>
<polyline points="141.9,2651.8 168.0,2646.6 194.2,2641.2 220.3,2635.6 246.4,2629.8 272.5,2623.9 298.6,2617.7 324.8,2611.4 350.9,2604.8 377.0,2598.1 403.1,2591.1 429.3,2583.9 455.4,2576.5 481.5,2568.8 507.6,2560.9 533.8,2552.8 559.9,2544.4 586.0,2535.7 612.1,2526.7 638.3,2517.5 664.4,2508.0 690.5,2498.2 716.6,2488.1 742.8,2477.7 768.9,2467.0 795.0,2456.0 821.1,2444.6 847.3,2432.9 873.4,2420.8 899.5,2408.4 925.6,2395.6 951.8,2382.4 977.9,2368.8 1004.0,2354.9 1030.2,2340.5 1056.3,2325.7 1082.4,2310.4 1108.5,2294.7 1134.7,2278.6 1160.8,2261.9 1186.9,2244.8 1213.0,2227.2 1239.2,2209.1 1265.3,2190.5 1291.4,2171.3 1317.5,2151.6 1343.7,2131.4 1369.8,2110.5 1395.9,2089.1 1422.0,2067.0 1448.2,2044.3 1474.3,2021.0 1500.5,1997.0 1526.7,1972.4 1553.0,1947.0 1579.4,1921.0 1605.8,1894.2 1632.2,1866.6 1638.1,1860.4" stroke="#505050" stroke-width="1.9" stroke-dasharray="5.4 5.7"/>
<polyline points="141.9,2634.2 168.0,2628.4 194.2,2622.3 220.3,2616.0 246.4,2609.5 272.5,2602.8 298.6,2595.9 324.8,2588.8 350.9,2581.4 377.0,2573.8 403.1,2565.9 429.3,2557.8 455.4,2549.5 481.5,2540.9 507.6,2532.0 533.8,2522.8 559.9,2513.4 586.0,2503.6 612.1,2493.5 638.3,2483.2 664.4,2472.5 690.5,2461.5 716.6,2450.1 742.8,2438.4 768.9,2426.4 795.0,2413.9 821.1,2401.1 847.3,2388.0 873.4,2374.4 899.5,2360.4 925.6,2346.0 951.8,2331.2 977.9,2315.9 1004.0,2300.2 1030.2,2284.0 1056.3,2267.3 1082.4,2250.2 1108.5,2232.5 1134.7,2214.3 1160.8,2195.6 1186.9,2176.4 1213.0,2156.6 1239.2,2136.2 1265.3,2115.3 1291.4,2093.7 1317.5,2071.5 1343.7,2048.7 1369.8,2025.3 1395.9,2001.1 1422.0,1976.3 1448.2,1950.8 1474.3,1924.6 1500.5,1897.6 1526.7,1869.9 1535.5,1860.4" stroke="#505050" stroke-width="1.9" stroke-dasharray="5.4 5.7"/>
<line x1="141.9" y1="2616.7" x2="622.7" y2="2792.4" stroke="#6c6c6c" stroke-width="2.0"/>
<line x1="194.2" y1="2603.4" x2="711.3" y2="2792.4" stroke="#505050" stroke-width="1.9" stroke-dasharray="5.4 5.7"/>
<line x1="246.4" y1="2589.2" x2="802.3" y2="2792.4" stroke="#505050" stroke-width="1.9" stroke-dasharray="5.4 5.7"/>
<line x1="298.6" y1="2574.1" x2="896.0" y2="2792.4" stroke="#505050" stroke-width="1.9" stroke-dasharray="5.4 5.7"/>
<line x1="350.9" y1="2558.0" x2="992.3" y2="2792.4" stroke="#505050" stroke-width="1.9" stroke-dasharray="5.4 5.7"/>
<line x1="403.1" y1="2540.8" x2="1091.5" y2="2792.4" stroke="#6c6c6c" stroke-width="2.0"/>
<line x1="455.4" y1="2522.5" x2="1193.8" y2="2792.4" stroke="#505050" stroke-width="1.9" stroke-dasharray="5.4 5.7"/>
<line x1="507.6" y1="2503.0" x2="1299.3" y2="2792.4" stroke="#505050" stroke-width="1.9" stroke-dasharray="5.4 5.7"/>
<line x1="559.9" y1="2482.3" x2="1408.2" y2="2792.4" stroke="#505050" stroke-width="1.9" stroke-dasharray="5.4 5.7"/>
<line x1="612.1" y1="2460.3" x2="1520.8" y2="2792.4" stroke="#505050" stroke-width="1.9" stroke-dasharray="5.4 5.7"/>
<line x1="664.4" y1="2436.9" x2="1638.2" y2="2792.4" stroke="#6c6c6c" stroke-width="2.0"/>
<line x1="716.6" y1="2412.1" x2="1759.3" y2="2792.4" stroke="#505050" stroke-width="1.9" stroke-dasharray="5.4 5.7"/>
<line x1="768.9" y1="2385.7" x2="1882.3" y2="2792.4" stroke="#505050" stroke-width="1.9" stroke-dasharray="5.4 5.7"/>
<line x1="821.1" y1="2357.7" x2="2010.5" y2="2792.4" stroke="#505050" stroke-width="1.9" stroke-dasharray="5.4 5.7"/>
<line x1="873.4" y1="2327.9" x2="2144.1" y2="2792.4" stroke="#505050" stroke-width="1.9" stroke-dasharray="5.4 5.7"/>
<line x1="925.6" y1="2296.4" x2="2231.9" y2="2773.8" stroke="#6c6c6c" stroke-width="2.0"/>
<line x1="977.9" y1="2262.9" x2="2231.9" y2="2721.3" stroke="#505050" stroke-width="1.9" stroke-dasharray="5.4 5.7"/>
<line x1="1030.2" y1="2227.5" x2="2231.9" y2="2666.7" stroke="#505050" stroke-width="1.9" stroke-dasharray="5.4 5.7"/>
<line x1="1082.4" y1="2189.9" x2="2231.9" y2="2610.1" stroke="#505050" stroke-width="1.9" stroke-dasharray="5.4 5.7"/>
<line x1="1134.7" y1="2150.1" x2="2231.9" y2="2551.2" stroke="#505050" stroke-width="1.9" stroke-dasharray="5.4 5.7"/>
<line x1="1186.9" y1="2107.9" x2="2231.9" y2="2489.9" stroke="#6c6c6c" stroke-width="2.0"/>
<line x1="1239.2" y1="2063.3" x2="2231.9" y2="2426.2" stroke="#505050" stroke-width="1.9" stroke-dasharray="5.4 5.7"/>
<line x1="1291.4" y1="2016.1" x2="2231.9" y2="2359.9" stroke="#505050" stroke-width="1.9" stroke-dasharray="5.4 5.7"/>
<line x1="1343.7" y1="1966.1" x2="2231.9" y2="2290.8" stroke="#505050" stroke-width="1.9" stroke-dasharray="5.4 5.7"/>
<line x1="1395.9" y1="1913.2" x2="2231.9" y2="2218.8" stroke="#505050" stroke-width="1.9" stroke-dasharray="5.4 5.7"/>
<line x1="1456.6" y1="1860.4" x2="2231.9" y2="2143.8" stroke="#6c6c6c" stroke-width="2.0"/>
<line x1="1672.4" y1="1860.4" x2="2231.9" y2="2065.6" stroke="#505050" stroke-width="1.9" stroke-dasharray="5.4 5.7"/>
<line x1="1894.4" y1="1860.4" x2="2231.9" y2="1984.0" stroke="#505050" stroke-width="1.9" stroke-dasharray="5.4 5.7"/>
<line x1="2126.9" y1="1860.4" x2="2231.9" y2="1898.8" stroke="#505050" stroke-width="1.9" stroke-dasharray="5.4 5.7"/>
<polyline points="632.3,2792.4 631.2,2790.1 630.0,2787.7 628.9,2785.4 627.7,2783.1 626.5,2780.8 625.4,2778.4 624.2,2776.1 623.1,2773.8 621.9,2771.4 620.7,2769.1 619.6,2766.8 618.4,2764.4 617.3,2762.1 616.1,2759.8 614.9,2757.5 613.8,2755.1 612.6,2752.8 611.5,2750.5 610.3,2748.1 609.1,2745.8 608.0,2743.5 606.8,2741.1 605.7,2738.8 604.5,2736.5 603.3,2734.2 602.2,2731.8 601.0,2729.5 599.9,2727.2 598.7,2724.8 597.6,2722.5 596.4,2720.2 595.2,2717.8 594.1,2715.5 592.9,2713.2 591.8,2710.8 590.6,2708.5 589.5,2706.2 588.3,2703.9 587.1,2701.5 586.0,2699.2 584.8,2696.9 583.7,2694.5 582.5,2692.2 581.4,2689.9 580.2,2687.6 579.1,2685.2 577.9,2682.9 576.8,2680.6 575.6,2678.2 574.4,2675.9 573.3,2673.6 572.1,2671.2 571.0,2668.9 569.8,2666.6 568.7,2664.2 567.5,2661.9 566.4,2659.6 565.2,2657.3 564.1,2654.9 562.9,2652.6 561.8,2650.3 560.6,2647.9 559.5,2645.6 558.3,2643.3 557.2,2641.0 556.0,2638.6 554.9,2636.3 553.7,2634.0 552.6,2631.6 551.4,2629.3 550.3,2627.0 549.1,2624.6 548.0,2622.3 546.8,2620.0 545.7,2617.7 544.5,2615.3 543.4,2613.0 542.2,2610.7 541.1,2608.3 539.9,2606.0 538.8,2603.7 537.6,2601.3 536.5,2599.0 535.3,2596.7 534.2,2594.4 533.0,2592.0 531.9,2589.7 530.7,2587.4 529.6,2585.0 528.5,2582.7 527.3,2580.4 526.2,2578.0 525.0,2575.7 523.9,2573.4 522.7,2571.1 521.6,2568.7 520.4,2566.4 519.3,2564.1 518.1,2561.7 517.0,2559.4 515.9,2557.1 514.7,2554.7 513.6,2552.4 512.4,2550.1 511.3,2547.8 510.1,2545.4 509.0,2543.1 507.9,2540.8 506.7,2538.4 505.6,2536.1 504.4,2533.8 503.3,2531.4 502.1,2529.1 501.0,2526.8 499.9,2524.5 498.7,2522.1 497.6,2519.8 496.4,2517.5 495.3,2515.1 494.1,2512.8 493.0,2510.5" stroke="#6c6c6c" stroke-width="2.0"/>
<polyline points="1093.7,2792.4 1092.5,2790.1 1091.3,2787.7 1090.1,2785.4 1088.9,2783.1 1087.7,2780.8 1086.5,2778.4 1085.3,2776.1 1084.1,2773.8 1082.9,2771.4 1081.7,2769.1 1080.5,2766.8 1079.3,2764.4 1078.1,2762.1 1076.9,2759.8 1075.7,2757.5 1074.5,2755.1 1073.3,2752.8 1072.1,2750.5 1070.9,2748.1 1069.7,2745.8 1068.5,2743.5 1067.3,2741.1 1066.2,2738.8 1065.0,2736.5 1063.8,2734.2 1062.6,2731.8 1061.4,2729.5 1060.2,2727.2 1059.0,2724.8 1057.8,2722.5 1056.6,2720.2 1055.4,2717.8 1054.2,2715.5 1053.0,2713.2 1051.8,2710.8 1050.6,2708.5 1049.4,2706.2 1048.3,2703.9 1047.1,2701.5 1045.9,2699.2 1044.7,2696.9 1043.5,2694.5 1042.3,2692.2 1041.1,2689.9 1039.9,2687.6 1038.7,2685.2 1037.5,2682.9 1036.3,2680.6 1035.2,2678.2 1034.0,2675.9 1032.8,2673.6 1031.6,2671.2 1030.4,2668.9 1029.2,2666.6 1028.0,2664.2 1026.8,2661.9 1025.6,2659.6 1024.5,2657.3 1023.3,2654.9 1022.1,2652.6 1020.9,2650.3 1019.7,2647.9 1018.5,2645.6 1017.3,2643.3 1016.1,2641.0 1015.0,2638.6 1013.8,2636.3 1012.6,2634.0 1011.4,2631.6 1010.2,2629.3 1009.0,2627.0 1007.8,2624.6 1006.7,2622.3 1005.5,2620.0 1004.3,2617.7 1003.1,2615.3 1001.9,2613.0 1000.7,2610.7 999.6,2608.3 998.4,2606.0 997.2,2603.7 996.0,2601.3 994.8,2599.0 993.6,2596.7 992.5,2594.4 991.3,2592.0 990.1,2589.7 988.9,2587.4 987.7,2585.0 986.5,2582.7 985.4,2580.4 984.2,2578.0 983.0,2575.7 981.8,2573.4 980.6,2571.1 979.4,2568.7 978.3,2566.4 977.1,2564.1 975.9,2561.7 974.7,2559.4 973.5,2557.1 972.4,2554.7 971.2,2552.4 970.0,2550.1 968.8,2547.8 967.6,2545.4 966.5,2543.1 965.3,2540.8 964.1,2538.4 962.9,2536.1 961.8,2533.8 960.6,2531.4 959.4,2529.1 958.2,2526.8 957.0,2524.5 955.9,2522.1 954.7,2519.8 953.5,2517.5 952.3,2515.1 951.2,2512.8 950.0,2510.5 948.8,2508.1 947.6,2505.8 946.5,2503.5 945.3,2501.2 944.1,2498.8 942.9,2496.5 941.8,2494.2 940.6,2491.8 939.4,2489.5 938.2,2487.2 937.1,2484.8 935.9,2482.5 934.7,2480.2 933.5,2477.9 932.4,2475.5 931.2,2473.2 930.0,2470.9 928.8,2468.5 927.7,2466.2 926.5,2463.9 925.3,2461.5 924.1,2459.2 923.0,2456.9 921.8,2454.6 920.6,2452.2 919.5,2449.9 918.3,2447.6 917.1,2445.2 915.9,2442.9 914.8,2440.6 913.6,2438.2 912.4,2435.9 911.3,2433.6 910.1,2431.3 908.9,2428.9 907.8,2426.6 906.6,2424.3 905.4,2421.9 904.2,2419.6 903.1,2417.3 901.9,2414.9 900.7,2412.6 899.6,2410.3 898.4,2408.0 897.2,2405.6 896.1,2403.3 894.9,2401.0 893.7,2398.6 892.6,2396.3 891.4,2394.0 890.2,2391.6 889.1,2389.3 887.9,2387.0 886.7,2384.7 885.6,2382.3 884.4,2380.0 883.2,2377.7 882.1,2375.3 880.9,2373.0 879.7,2370.7 878.6,2368.3 877.4,2366.0 876.2,2363.7 875.1,2361.4 873.9,2359.0 872.7,2356.7 871.6,2354.4 870.4,2352.0 869.2,2349.7 868.1,2347.4 866.9,2345.0 865.8,2342.7 864.6,2340.4 863.4,2338.0 862.3,2335.7" stroke="#6c6c6c" stroke-width="2.0"/>
<polyline points="1555.4,2792.4 1554.1,2790.1 1552.9,2787.7 1551.7,2785.4 1550.4,2783.1 1549.2,2780.8 1547.9,2778.4 1546.7,2776.1 1545.4,2773.8 1544.2,2771.4 1543.0,2769.1 1541.7,2766.8 1540.5,2764.4 1539.2,2762.1 1538.0,2759.8 1536.8,2757.5 1535.5,2755.1 1534.3,2752.8 1533.0,2750.5 1531.8,2748.1 1530.6,2745.8 1529.3,2743.5 1528.1,2741.1 1526.9,2738.8 1525.6,2736.5 1524.4,2734.2 1523.1,2731.8 1521.9,2729.5 1520.7,2727.2 1519.4,2724.8 1518.2,2722.5 1517.0,2720.2 1515.7,2717.8 1514.5,2715.5 1513.3,2713.2 1512.0,2710.8 1510.8,2708.5 1509.6,2706.2 1508.3,2703.9 1507.1,2701.5 1505.9,2699.2 1504.6,2696.9 1503.4,2694.5 1502.2,2692.2 1501.0,2689.9 1499.7,2687.6 1498.5,2685.2 1497.3,2682.9 1496.0,2680.6 1494.8,2678.2 1493.6,2675.9 1492.4,2673.6 1491.1,2671.2 1489.9,2668.9 1488.7,2666.6 1487.4,2664.2 1486.2,2661.9 1485.0,2659.6 1483.8,2657.3 1482.5,2654.9 1481.3,2652.6 1480.1,2650.3 1478.9,2647.9 1477.6,2645.6 1476.4,2643.3 1475.2,2641.0 1474.0,2638.6 1472.7,2636.3 1471.5,2634.0 1470.3,2631.6 1469.1,2629.3 1467.8,2627.0 1466.6,2624.6 1465.4,2622.3 1464.2,2620.0 1463.0,2617.7 1461.7,2615.3 1460.5,2613.0 1459.3,2610.7 1458.1,2608.3 1456.8,2606.0 1455.6,2603.7 1454.4,2601.3 1453.2,2599.0 1452.0,2596.7 1450.7,2594.4 1449.5,2592.0 1448.3,2589.7 1447.1,2587.4 1445.9,2585.0 1444.6,2582.7 1443.4,2580.4 1442.2,2578.0 1441.0,2575.7 1439.8,2573.4 1438.6,2571.1 1437.3,2568.7 1436.1,2566.4 1434.9,2564.1 1433.7,2561.7 1432.5,2559.4 1431.3,2557.1 1430.0,2554.7 1428.8,2552.4 1427.6,2550.1 1426.4,2547.8 1425.2,2545.4 1424.0,2543.1 1422.7,2540.8 1421.5,2538.4 1420.3,2536.1 1419.1,2533.8 1417.9,2531.4 1416.7,2529.1 1415.5,2526.8 1414.2,2524.5 1413.0,2522.1 1411.8,2519.8 1410.6,2517.5 1409.4,2515.1 1408.2,2512.8 1407.0,2510.5 1405.8,2508.1 1404.5,2505.8 1403.3,2503.5 1402.1,2501.2 1400.9,2498.8 1399.7,2496.5 1398.5,2494.2 1397.3,2491.8 1396.1,2489.5 1394.9,2487.2 1393.6,2484.8 1392.4,2482.5 1391.2,2480.2 1390.0,2477.9 1388.8,2475.5 1387.6,2473.2 1386.4,2470.9 1385.2,2468.5 1384.0,2466.2 1382.8,2463.9 1381.6,2461.5 1380.3,2459.2 1379.1,2456.9 1377.9,2454.6 1376.7,2452.2 1375.5,2449.9 1374.3,2447.6 1373.1,2445.2 1371.9,2442.9 1370.7,2440.6 1369.5,2438.2 1368.3,2435.9 1367.1,2433.6 1365.9,2431.3 1364.7,2428.9 1363.4,2426.6 1362.2,2424.3 1361.0,2421.9 1359.8,2419.6 1358.6,2417.3 1357.4,2414.9 1356.2,2412.6 1355.0,2410.3 1353.8,2408.0 1352.6,2405.6 1351.4,2403.3 1350.2,2401.0 1349.0,2398.6 1347.8,2396.3 1346.6,2394.0 1345.4,2391.6 1344.2,2389.3 1343.0,2387.0 1341.8,2384.7 1340.6,2382.3 1339.4,2380.0 1338.2,2377.7 1337.0,2375.3 1335.8,2373.0 1334.6,2370.7 1333.4,2368.3 1332.2,2366.0 1331.0,2363.7 1329.8,2361.4 1328.6,2359.0 1327.4,2356.7 1326.2,2354.4 1325.0,2352.0 1323.8,2349.7 1322.6,2347.4 1321.4,2345.0 1320.2,2342.7 1319.0,2340.4 1317.8,2338.0 1316.6,2335.7 1315.4,2333.4 1314.2,2331.1 1313.0,2328.7 1311.8,2326.4 1310.6,2324.1 1309.4,2321.7 1308.2,2319.4 1307.0,2317.1 1305.8,2314.7 1304.6,2312.4 1303.4,2310.1 1302.2,2307.8 1301.0,2305.4 1299.8,2303.1 1298.6,2300.8 1297.4,2298.4 1296.2,2296.1 1295.1,2293.8 1293.9,2291.4 1292.7,2289.1 1291.5,2286.8 1290.3,2284.5 1289.1,2282.1 1287.9,2279.8 1286.7,2277.5 1285.5,2275.1 1284.3,2272.8 1283.1,2270.5 1281.9,2268.1 1280.7,2265.8 1279.5,2263.5 1278.3,2261.2 1277.2,2258.8 1276.0,2256.5 1274.8,2254.2 1273.6,2251.8 1272.4,2249.5 1271.2,2247.2 1270.0,2244.8 1268.8,2242.5 1267.6,2240.2 1266.4,2237.9 1265.2,2235.5 1264.1,2233.2 1262.9,2230.9 1261.7,2228.5 1260.5,2226.2 1259.3,2223.9 1258.1,2221.5 1256.9,2219.2 1255.7,2216.9 1254.5,2214.6 1253.4,2212.2 1252.2,2209.9 1251.0,2207.6 1249.8,2205.2 1248.6,2202.9 1247.4,2200.6 1246.2,2198.2 1245.0,2195.9 1243.9,2193.6 1242.7,2191.3 1241.5,2188.9 1240.3,2186.6 1239.1,2184.3 1237.9,2181.9 1236.7,2179.6 1235.6,2177.3 1234.4,2174.9 1233.2,2172.6 1232.0,2170.3 1230.8,2168.0 1229.6,2165.6 1228.4,2163.3 1227.3,2161.0 1226.1,2158.6 1224.9,2156.3 1223.7,2154.0 1222.5,2151.6 1221.3,2149.3 1220.2,2147.0 1219.0,2144.7 1217.8,2142.3 1216.6,2140.0 1215.4,2137.7 1214.2,2135.3 1213.1,2133.0 1211.9,2130.7 1210.7,2128.3 1209.5,2126.0 1208.3,2123.7 1207.2,2121.4 1206.0,2119.0 1204.8,2116.7 1203.6,2114.4 1202.4,2112.0 1201.3,2109.7 1200.1,2107.4 1198.9,2105.0 1197.7,2102.7 1196.5,2100.4" stroke="#6c6c6c" stroke-width="2.0"/>
<polyline points="2016.4,2792.4 2015.1,2790.1 2013.8,2787.7 2012.6,2785.4 2011.3,2783.1 2010.0,2780.8 2008.7,2778.4 2007.5,2776.1 2006.2,2773.8 2004.9,2771.4 2003.7,2769.1 2002.4,2766.8 2001.1,2764.4 1999.9,2762.1 1998.6,2759.8 1997.3,2757.5 1996.1,2755.1 1994.8,2752.8 1993.5,2750.5 1992.3,2748.1 1991.0,2745.8 1989.7,2743.5 1988.5,2741.1 1987.2,2738.8 1986.0,2736.5 1984.7,2734.2 1983.4,2731.8 1982.2,2729.5 1980.9,2727.2 1979.6,2724.8 1978.4,2722.5 1977.1,2720.2 1975.8,2717.8 1974.6,2715.5 1973.3,2713.2 1972.1,2710.8 1970.8,2708.5 1969.5,2706.2 1968.3,2703.9 1967.0,2701.5 1965.8,2699.2 1964.5,2696.9 1963.2,2694.5 1962.0,2692.2 1960.7,2689.9 1959.5,2687.6 1958.2,2685.2 1956.9,2682.9 1955.7,2680.6 1954.4,2678.2 1953.2,2675.9 1951.9,2673.6 1950.7,2671.2 1949.4,2668.9 1948.2,2666.6 1946.9,2664.2 1945.6,2661.9 1944.4,2659.6 1943.1,2657.3 1941.9,2654.9 1940.6,2652.6 1939.4,2650.3 1938.1,2647.9 1936.9,2645.6 1935.6,2643.3 1934.4,2641.0 1933.1,2638.6 1931.9,2636.3 1930.6,2634.0 1929.4,2631.6 1928.1,2629.3 1926.9,2627.0 1925.6,2624.6 1924.4,2622.3 1923.1,2620.0 1921.9,2617.7 1920.6,2615.3 1919.4,2613.0 1918.1,2610.7 1916.9,2608.3 1915.6,2606.0 1914.4,2603.7 1913.1,2601.3 1911.9,2599.0 1910.7,2596.7 1909.4,2594.4 1908.2,2592.0 1906.9,2589.7 1905.7,2587.4 1904.4,2585.0 1903.2,2582.7 1901.9,2580.4 1900.7,2578.0 1899.5,2575.7 1898.2,2573.4 1897.0,2571.1 1895.7,2568.7 1894.5,2566.4 1893.3,2564.1 1892.0,2561.7 1890.8,2559.4 1889.5,2557.1 1888.3,2554.7 1887.1,2552.4 1885.8,2550.1 1884.6,2547.8 1883.4,2545.4 1882.1,2543.1 1880.9,2540.8 1879.6,2538.4 1878.4,2536.1 1877.2,2533.8 1875.9,2531.4 1874.7,2529.1 1873.5,2526.8 1872.2,2524.5 1871.0,2522.1 1869.8,2519.8 1868.5,2517.5 1867.3,2515.1 1866.1,2512.8 1864.8,2510.5 1863.6,2508.1 1862.4,2505.8 1861.1,2503.5 1859.9,2501.2 1858.7,2498.8 1857.4,2496.5 1856.2,2494.2 1855.0,2491.8 1853.8,2489.5 1852.5,2487.2 1851.3,2484.8 1850.1,2482.5 1848.8,2480.2 1847.6,2477.9 1846.4,2475.5 1845.2,2473.2 1843.9,2470.9 1842.7,2468.5 1841.5,2466.2 1840.3,2463.9 1839.0,2461.5 1837.8,2459.2 1836.6,2456.9 1835.3,2454.6 1834.1,2452.2 1832.9,2449.9 1831.7,2447.6 1830.4,2445.2 1829.2,2442.9 1828.0,2440.6 1826.8,2438.2 1825.5,2435.9 1824.3,2433.6 1823.1,2431.3 1821.9,2428.9 1820.6,2426.6 1819.4,2424.3 1818.2,2421.9 1817.0,2419.6 1815.8,2417.3 1814.5,2414.9 1813.3,2412.6 1812.1,2410.3 1810.9,2408.0 1809.6,2405.6 1808.4,2403.3 1807.2,2401.0 1806.0,2398.6 1804.7,2396.3 1803.5,2394.0 1802.3,2391.6 1801.1,2389.3 1799.9,2387.0 1798.6,2384.7 1797.4,2382.3 1796.2,2380.0 1795.0,2377.7 1793.7,2375.3 1792.5,2373.0 1791.3,2370.7 1790.1,2368.3 1788.9,2366.0 1787.6,2363.7 1786.4,2361.4 1785.2,2359.0 1784.0,2356.7 1782.7,2354.4 1781.5,2352.0 1780.3,2349.7 1779.1,2347.4 1777.9,2345.0 1776.6,2342.7 1775.4,2340.4 1774.2,2338.0 1773.0,2335.7 1771.7,2333.4 1770.5,2331.1 1769.3,2328.7 1768.1,2326.4 1766.8,2324.1 1765.6,2321.7 1764.4,2319.4 1763.2,2317.1 1761.9,2314.7 1760.7,2312.4 1759.5,2310.1 1758.3,2307.8 1757.0,2305.4 1755.8,2303.1 1754.6,2300.8 1753.4,2298.4 1752.1,2296.1 1750.9,2293.8 1749.7,2291.4 1748.5,2289.1 1747.2,2286.8 1746.0,2284.5 1744.8,2282.1 1743.6,2279.8 1742.3,2277.5 1741.1,2275.1 1739.9,2272.8 1738.6,2270.5 1737.4,2268.1 1736.2,2265.8 1735.0,2263.5 1733.7,2261.2 1732.5,2258.8 1731.3,2256.5 1730.1,2254.2 1728.8,2251.8 1727.6,2249.5 1726.4,2247.2 1725.1,2244.8 1723.9,2242.5 1722.7,2240.2 1721.4,2237.9 1720.2,2235.5 1719.0,2233.2 1717.8,2230.9 1716.5,2228.5 1715.3,2226.2 1714.1,2223.9 1712.8,2221.5 1711.6,2219.2 1710.4,2216.9 1709.1,2214.6 1707.9,2212.2 1706.7,2209.9 1705.4,2207.6 1704.2,2205.2 1703.0,2202.9 1701.8,2200.6 1700.5,2198.2 1699.3,2195.9 1698.1,2193.6 1696.8,2191.3 1695.6,2188.9 1694.4,2186.6 1693.1,2184.3 1691.9,2181.9 1690.7,2179.6 1689.4,2177.3 1688.2,2174.9 1687.0,2172.6 1685.7,2170.3 1684.5,2168.0 1683.3,2165.6 1682.0,2163.3 1680.8,2161.0 1679.6,2158.6 1678.3,2156.3 1677.1,2154.0 1675.9,2151.6 1674.6,2149.3 1673.4,2147.0 1672.2,2144.7 1670.9,2142.3 1669.7,2140.0 1668.5,2137.7 1667.2,2135.3 1666.0,2133.0 1664.8,2130.7 1663.5,2128.3 1662.3,2126.0 1661.1,2123.7 1659.8,2121.4 1658.6,2119.0 1657.4,2116.7 1656.2,2114.4 1654.9,2112.0 1653.7,2109.7 1652.5,2107.4 1651.2,2105.0 1650.0,2102.7 1648.8,2100.4 1647.5,2098.1 1646.3,2095.7 1645.1,2093.4 1643.8,2091.1 1642.6,2088.7 1641.4,2086.4 1640.2,2084.1 1638.9,2081.7 1637.7,2079.4 1636.5,2077.1 1635.2,2074.8 1634.0,2072.4 1632.8,2070.1 1631.5,2067.8 1630.3,2065.4 1629.1,2063.1 1627.9,2060.8 1626.6,2058.4 1625.4,2056.1 1624.2,2053.8 1623.0,2051.5 1621.7,2049.1 1620.5,2046.8 1619.3,2044.5 1618.1,2042.1 1616.8,2039.8 1615.6,2037.5 1614.4,2035.1 1613.2,2032.8 1611.9,2030.5 1610.7,2028.2 1609.5,2025.8 1608.3,2023.5 1607.0,2021.2 1605.8,2018.8 1604.6,2016.5 1603.4,2014.2 1602.1,2011.8 1600.9,2009.5 1599.7,2007.2 1598.5,2004.9 1597.3,2002.5 1596.0,2000.2 1594.8,1997.9 1593.6,1995.5 1592.4,1993.2 1591.2,1990.9 1589.9,1988.5 1588.7,1986.2 1587.5,1983.9 1586.3,1981.6 1585.1,1979.2 1583.9,1976.9 1582.6,1974.6 1581.4,1972.2 1580.2,1969.9 1579.0,1967.6 1577.8,1965.2 1576.6,1962.9 1575.4,1960.6 1574.1,1958.3 1572.9,1955.9 1571.7,1953.6 1570.5,1951.3 1569.3,1948.9 1568.1,1946.6 1566.9,1944.3 1565.6,1941.9 1564.4,1939.6 1563.2,1937.3 1562.0,1935.0 1560.8,1932.6 1559.6,1930.3 1558.4,1928.0 1557.2,1925.6 1556.0,1923.3 1554.8,1921.0 1553.6,1918.6 1552.3,1916.3 1551.1,1914.0 1549.9,1911.7 1548.7,1909.3 1547.5,1907.0 1546.3,1904.7 1545.1,1902.3 1543.9,1900.0 1542.7,1897.7 1541.5,1895.3 1540.3,1893.0 1539.1,1890.7 1537.9,1888.4 1536.7,1886.0 1535.5,1883.7 1534.3,1881.4 1533.1,1879.0 1531.9,1876.7 1530.7,1874.4 1529.5,1872.0 1528.2,1869.7 1527.0,1867.4 1525.8,1865.1 1524.6,1862.7 1523.4,1860.4" stroke="#6c6c6c" stroke-width="2.0"/>
<polyline points="2231.6,2347.4 2230.3,2345.0 2229.0,2342.7 2227.8,2340.4 2226.5,2338.0 2225.2,2335.7 2224.0,2333.4 2222.7,2331.1 2221.4,2328.7 2220.1,2326.4 2218.9,2324.1 2217.6,2321.7 2216.3,2319.4 2215.1,2317.1 2213.8,2314.7 2212.5,2312.4 2211.3,2310.1 2210.0,2307.8 2208.7,2305.4 2207.5,2303.1 2206.2,2300.8 2205.0,2298.4 2203.7,2296.1 2202.4,2293.8 2201.2,2291.4 2199.9,2289.1 2198.6,2286.8 2197.4,2284.5 2196.1,2282.1 2194.8,2279.8 2193.6,2277.5 2192.3,2275.1 2191.0,2272.8 2189.8,2270.5 2188.5,2268.1 2187.3,2265.8 2186.0,2263.5 2184.7,2261.2 2183.5,2258.8 2182.2,2256.5 2180.9,2254.2 2179.7,2251.8 2178.4,2249.5 2177.2,2247.2 2175.9,2244.8 2174.6,2242.5 2173.4,2240.2 2172.1,2237.9 2170.9,2235.5 2169.6,2233.2 2168.3,2230.9 2167.1,2228.5 2165.8,2226.2 2164.6,2223.9 2163.3,2221.5 2162.0,2219.2 2160.8,2216.9 2159.5,2214.6 2158.3,2212.2 2157.0,2209.9 2155.8,2207.6 2154.5,2205.2 2153.2,2202.9 2152.0,2200.6 2150.7,2198.2 2149.5,2195.9 2148.2,2193.6 2147.0,2191.3 2145.7,2188.9 2144.4,2186.6 2143.2,2184.3 2141.9,2181.9 2140.7,2179.6 2139.4,2177.3 2138.2,2174.9 2136.9,2172.6 2135.7,2170.3 2134.4,2168.0 2133.1,2165.6 2131.9,2163.3 2130.6,2161.0 2129.4,2158.6 2128.1,2156.3 2126.9,2154.0 2125.6,2151.6 2124.4,2149.3 2123.1,2147.0 2121.9,2144.7 2120.6,2142.3 2119.4,2140.0 2118.1,2137.7 2116.9,2135.3 2115.6,2133.0 2114.4,2130.7 2113.1,2128.3 2111.9,2126.0 2110.6,2123.7 2109.4,2121.4 2108.1,2119.0 2106.9,2116.7 2105.6,2114.4 2104.4,2112.0 2103.1,2109.7 2101.9,2107.4 2100.6,2105.0 2099.4,2102.7 2098.1,2100.4 2096.9,2098.1 2095.6,2095.7 2094.4,2093.4 2093.1,2091.1 2091.9,2088.7 2090.6,2086.4 2089.4,2084.1 2088.1,2081.7 2086.9,2079.4 2085.6,2077.1 2084.4,2074.8 2083.1,2072.4 2081.9,2070.1 2080.6,2067.8 2079.4,2065.4 2078.2,2063.1 2076.9,2060.8 2075.7,2058.4 2074.4,2056.1 2073.2,2053.8 2071.9,2051.5 2070.7,2049.1 2069.4,2046.8 2068.2,2044.5 2067.0,2042.1 2065.7,2039.8 2064.5,2037.5 2063.2,2035.1 2062.0,2032.8 2060.7,2030.5 2059.5,2028.2 2058.3,2025.8 2057.0,2023.5 2055.8,2021.2 2054.5,2018.8 2053.3,2016.5 2052.0,2014.2 2050.8,2011.8 2049.6,2009.5 2048.3,2007.2 2047.1,2004.9 2045.8,2002.5 2044.6,2000.2 2043.4,1997.9 2042.1,1995.5 2040.9,1993.2 2039.6,1990.9 2038.4,1988.5 2037.2,1986.2 2035.9,1983.9 2034.7,1981.6 2033.4,1979.2 2032.2,1976.9 2031.0,1974.6 2029.7,1972.2 2028.5,1969.9 2027.3,1967.6 2026.0,1965.2 2024.8,1962.9 2023.5,1960.6 2022.3,1958.3 2021.1,1955.9 2019.8,1953.6 2018.6,1951.3 2017.4,1948.9 2016.1,1946.6 2014.9,1944.3 2013.7,1941.9 2012.4,1939.6 2011.2,1937.3 2010.0,1935.0 2008.7,1932.6 2007.5,1930.3 2006.3,1928.0 2005.0,1925.6 2003.8,1923.3 2002.6,1921.0 2001.3,1918.6 2000.1,1916.3 1998.9,1914.0 1997.6,1911.7 1996.4,1909.3 1995.2,1907.0 1993.9,1904.7 1992.7,1902.3 1991.5,1900.0 1990.3,1897.7 1989.0,1895.3 1987.8,1893.0 1986.6,1890.7 1985.3,1888.4 1984.1,1886.0 1982.9,1883.7 1981.6,1881.4 1980.4,1879.0 1979.2,1876.7 1978.0,1874.4 1976.7,1872.0 1975.5,1869.7 1974.3,1867.4 1973.1,1865.1 1971.8,1862.7 1970.6,1860.4" stroke="#6c6c6c" stroke-width="2.0"/>
<line x1="141.9" y1="2616.7" x2="141.9" y2="2793.4" stroke="#6c6c6c" stroke-width="2.4"/>
<line x1="403.1" y1="2540.8" x2="403.1" y2="2797.9" stroke="#6c6c6c" stroke-width="2.0"/>
<line x1="664.4" y1="2436.9" x2="664.4" y2="2797.9" stroke="#6c6c6c" stroke-width="2.0"/>
<line x1="925.6" y1="2296.4" x2="925.6" y2="2797.9" stroke="#6c6c6c" stroke-width="2.0"/>
<line x1="1186.9" y1="2107.9" x2="1186.9" y2="2797.9" stroke="#6c6c6c" stroke-width="2.0"/>
<line x1="1448.2" y1="1860.4" x2="1448.2" y2="2797.9" stroke="#6c6c6c" stroke-width="2.0"/>
<line x1="1711.5" y1="1860.4" x2="1711.5" y2="2797.9" stroke="#6c6c6c" stroke-width="2.0"/>
<line x1="1970.8" y1="1860.4" x2="1970.8" y2="2797.9" stroke="#6c6c6c" stroke-width="2.0"/>
<line x1="2231.9" y1="1843.1" x2="2231.9" y2="2797.9" stroke="#6c6c6c" stroke-width="2.4"/>
<line x1="346.4" y1="2559.4" x2="2250.4" y2="2559.4" stroke="#6c6c6c" stroke-width="2.0"/>
<line x1="876.0" y1="2326.4" x2="2250.4" y2="2326.4" stroke="#6c6c6c" stroke-width="2.0"/>
<line x1="1204.3" y1="2093.4" x2="2250.4" y2="2093.4" stroke="#6c6c6c" stroke-width="2.0"/>
<line x1="140.9" y1="2792.4" x2="2250.4" y2="2792.4" stroke="#6c6c6c" stroke-width="2.4"/>
<line x1="1445.4" y1="1860.4" x2="2231.9" y2="1860.4" stroke="#505050" stroke-width="3.2"/>
<line x1="2231.9" y1="1860.4" x2="2250.4" y2="1860.4" stroke="#6c6c6c" stroke-width="2.0"/>
<polyline points="141.9,2616.7 168.0,2610.1 194.2,2603.4 220.3,2596.4 246.4,2589.2 272.5,2581.8 298.6,2574.1 324.8,2566.1 350.9,2558.0 377.0,2549.5 403.1,2540.8 429.3,2531.8 455.4,2522.5 481.5,2512.9 507.6,2503.0 533.8,2492.9 559.9,2482.3 586.0,2471.5 612.1,2460.3 638.3,2448.8 664.4,2436.9 690.5,2424.7 716.6,2412.1 742.8,2399.1 768.9,2385.7 795.0,2371.9 821.1,2357.7 847.3,2343.0 873.4,2327.9 899.5,2312.4 925.6,2296.4 951.8,2279.9 977.9,2262.9 1004.0,2245.5 1030.2,2227.5 1056.3,2209.0 1082.4,2189.9 1108.5,2170.3 1134.7,2150.1 1160.8,2129.3 1186.9,2107.9 1213.0,2086.0 1239.2,2063.3 1265.3,2040.0 1291.4,2016.1 1317.5,1991.4 1343.7,1966.1 1369.8,1940.0 1395.9,1913.2 1422.0,1885.7 1445.4,1860.4" stroke="#6c6c6c" stroke-width="2.0"/>
</g>
<polygon points="2186.4,2606.0 622.6,2606.0 622.6,2489.4 635.4,2484.3 648.2,2479.1 661.1,2473.9 673.9,2468.5 686.7,2463.1 699.5,2457.6 712.4,2452.0 725.2,2446.3 738.0,2440.6 750.8,2434.7 763.7,2428.8 776.5,2422.8 789.3,2416.7 802.1,2410.5 814.9,2404.2 827.8,2397.8 840.6,2391.4 853.4,2384.8 866.2,2378.1 879.1,2371.4 891.9,2364.5 904.7,2357.6 917.5,2350.5 930.4,2343.4 943.2,2336.1 956.0,2328.7 968.8,2321.2 981.6,2313.7 994.5,2306.0 1007.3,2298.2 1020.1,2290.2 1032.9,2282.2 1045.8,2274.1 1058.6,2265.8 1071.4,2257.4 1084.2,2248.9 1097.1,2240.3 1109.9,2231.6 1122.7,2222.7 1135.5,2213.7 1148.3,2204.6 1161.2,2195.3 1174.0,2186.0 1186.8,2176.5 1199.6,2166.8 1212.5,2157.0 1225.3,2147.1 1238.1,2137.1 1970.8,2137.1 2186.4,2606.0" stroke="#00E1C3" stroke-width="4" stroke-linejoin="miter"/>
<polyline points="966.4,2792.4 454.4,2792.4 454.4,2522.9 467.4,2518.1 480.5,2513.3 493.5,2508.4 506.6,2503.4 519.7,2498.4 532.7,2493.3 545.8,2488.1 558.9,2482.8 571.9,2477.4 585.0,2471.9 598.0,2466.4 611.1,2460.8 624.2,2455.1 637.2,2449.3 650.3,2443.4 663.4,2437.4 676.4,2431.4 689.5,2425.2 702.5,2418.9 715.6,2412.6 728.7,2406.2 741.7,2399.6 754.8,2393.0 767.9,2386.2 780.9,2379.4 794.0,2372.4 807.0,2365.4 820.1,2358.2 833.2,2351.0 846.2,2343.6 859.3,2336.1 872.4,2328.5 885.4,2320.8 898.5,2313.0 911.5,2305.1 924.6,2297.0 937.7,2288.9 950.7,2280.6 963.8,2272.2 976.9,2263.6 989.9,2255.0 1003.0,2246.2 1016.0,2237.3 1022.8,2230.7 1111.1,2230.7" stroke="#00E2EA" stroke-width="5.5" stroke-linejoin="miter"/>
<polyline points="966.4,2606.0 966.4,2792.4" stroke="#00E2EA" stroke-width="5.5"/>
<polyline points="1111.1,2230.7 1684.6,2441.0 1684.6,2792.4" stroke="#00FA78" stroke-width="4"/>
<polyline points="1648.1,2139.4 1804.1,2606.0" stroke="#E2E400" stroke-width="4"/>
<path d="M966.4,2606.0 L1474.3,2792.4 L1840.2,2792.4 L1840.2,2298.4 C1840.2,2203.4 1785.5,2137.1 1690.5,2137.1 L1238.1,2137.1 L1227.5,2145.4 L1216.9,2153.6 L1206.4,2161.7 L1195.8,2169.7 L1185.2,2177.7 L1174.6,2185.5 L1164.0,2193.3 L1153.5,2200.9 L1142.9,2208.5 L1132.3,2216.0 L1121.7,2223.4 L1111.1,2230.7" stroke="#FF9494" stroke-width="4" stroke-linejoin="miter"/>
<polyline points="1166.0,2606.0 1424.6,2606.0 1411.6,2523.5 1398.0,2421.5 1385.5,2326.4 1376.6,2240.2 1328.5,2062.0 1328.5,2062.0 1319.5,2069.9 1310.4,2077.6 1301.4,2085.3 1292.3,2092.9 1283.3,2100.5 1274.3,2107.9 1265.2,2115.3 1256.2,2122.6 1247.1,2129.9 1238.1,2137.1" stroke="#008B8B" stroke-width="4.5" stroke-linejoin="round"/>
<polygon points="1111.1,2230.7 1099.6,2238.6 1088.1,2246.4 1076.5,2254.0 1065.0,2261.6 1053.5,2269.1 1041.9,2276.5 1030.4,2283.8 1018.9,2291.0 1007.3,2298.1 995.8,2305.2 984.3,2312.1 972.7,2318.9 961.2,2325.7 949.7,2332.4 965.9,2606.0 1166.5,2606.0" stroke="#1616F0" stroke-width="4.5" stroke-linejoin="miter"/>
</g>
<text x="76.3" y="1598.0" font-family='"Liberation Sans","Noto Sans CJK SC",sans-serif' font-size="46.7" fill="#000" font-weight="normal" font-style="normal" text-anchor="start" textLength="500.6" lengthAdjust="spacingAndGlyphs" stroke="#000" stroke-width="1.3">Psychrometric Chart</text>
<text x="79.4" y="1645.7" font-family='"Liberation Sans","Noto Sans CJK SC",sans-serif' font-size="35.8" fill="#000" font-weight="normal" font-style="italic" text-anchor="start" textLength="442.5" lengthAdjust="spacingAndGlyphs">Location: Aosta. AP, ITA</text>
<text x="79.5" y="1687.8" font-family='"Liberation Sans","Noto Sans CJK SC",sans-serif' font-size="35.8" fill="#000" font-weight="normal" font-style="italic" text-anchor="start" textLength="783.1" lengthAdjust="spacingAndGlyphs">Display: Monthly Mean Minimum/Maximum</text>
<text x="79.5" y="1730.3" font-family='"Liberation Sans","Noto Sans CJK SC",sans-serif' font-size="35.8" fill="#000" font-weight="normal" font-style="italic" text-anchor="start" textLength="586.8" lengthAdjust="spacingAndGlyphs">Barometric Pressure: 101.36 kPa</text>
<text x="77.2" y="1772.3" font-family='"Liberation Sans","Noto Sans CJK SC",sans-serif' font-size="35.8" fill="#000" font-weight="normal" font-style="italic" text-anchor="start" textLength="245.0" lengthAdjust="spacingAndGlyphs">Weather Tool</text>
<text x="78.4" y="1891.2" font-family='"Liberation Sans","Noto Sans CJK SC",sans-serif' font-size="42.3" fill="#000" font-weight="normal" font-style="normal" text-anchor="start" textLength="745.2" lengthAdjust="spacingAndGlyphs" stroke="#000" stroke-width="0.9">SELECTED DESIGN TECHNIQUES:</text>
<text x="78.4" y="1946.2" font-family='"Liberation Sans","Noto Sans CJK SC",sans-serif' font-size="41" fill="#00DDEE" font-weight="normal" font-style="normal" text-anchor="start" textLength="497.6" lengthAdjust="spacingAndGlyphs" stroke="#00DDEE" stroke-width="0.9">1. passive solar heating</text>
<text x="77.9" y="2001.2" font-family='"Liberation Sans","Noto Sans CJK SC",sans-serif' font-size="41" fill="#DDDD00" font-weight="normal" font-style="normal" text-anchor="start" textLength="506.5" lengthAdjust="spacingAndGlyphs" stroke="#DDDD00" stroke-width="0.9">2. thermal mass effects</text>
<text x="78.5" y="2056.2" font-family='"Liberation Sans","Noto Sans CJK SC",sans-serif' font-size="41" fill="#00DDBB" font-weight="normal" font-style="normal" text-anchor="start" textLength="879.1" lengthAdjust="spacingAndGlyphs" stroke="#00DDBB" stroke-width="0.9">3. exposed mass+night–purge ventilation</text>
<text x="79.4" y="2111.0" font-family='"Liberation Sans","Noto Sans CJK SC",sans-serif' font-size="41" fill="#008B8B" font-weight="normal" font-style="normal" text-anchor="start" textLength="436.7" lengthAdjust="spacingAndGlyphs" stroke="#008B8B" stroke-width="0.9">4. natural ventilation</text>
<text x="78.4" y="2165.5" font-family='"Liberation Sans","Noto Sans CJK SC",sans-serif' font-size="41" fill="#00FF66" font-weight="normal" font-style="normal" text-anchor="start" textLength="609.5" lengthAdjust="spacingAndGlyphs" stroke="#00FF66" stroke-width="0.9">5. direct evaporative cooling</text>
<text x="78.0" y="2220.3" font-family='"Liberation Sans","Noto Sans CJK SC",sans-serif' font-size="41" fill="#FFA0A0" font-weight="normal" font-style="normal" text-anchor="start" textLength="647.3" lengthAdjust="spacingAndGlyphs" stroke="#FFA0A0" stroke-width="0.9">6. indirect evaporative cooling</text>
<text x="968.8" y="2598.5" font-family='"Liberation Sans","Noto Sans CJK SC",sans-serif' font-size="47" fill="#000" font-weight="normal" font-style="normal" text-anchor="start" textLength="188.0" lengthAdjust="spacingAndGlyphs" stroke="#000" stroke-width="1.3">Comfort</text>
<text x="39.7" y="2856.3" font-family='"Liberation Sans","Noto Sans CJK SC",sans-serif' font-size="51.5" fill="#111" font-weight="normal" font-style="normal" text-anchor="start" textLength="203.0" lengthAdjust="spacingAndGlyphs">DBT (℃)</text>
<text x="382.8" y="2857.0" font-family='"Liberation Sans","Noto Sans CJK SC",sans-serif' font-size="53" fill="#111" font-weight="normal" font-style="normal" text-anchor="start" textLength="31.5" lengthAdjust="spacingAndGlyphs">5</text>
<text x="637.8" y="2857.0" font-family='"Liberation Sans","Noto Sans CJK SC",sans-serif' font-size="53" fill="#111" font-weight="normal" font-style="normal" text-anchor="start" textLength="55.4" lengthAdjust="spacingAndGlyphs">10</text>
<text x="898.2" y="2857.0" font-family='"Liberation Sans","Noto Sans CJK SC",sans-serif' font-size="53" fill="#111" font-weight="normal" font-style="normal" text-anchor="start" textLength="55.7" lengthAdjust="spacingAndGlyphs">15</text>
<text x="1161.6" y="2857.0" font-family='"Liberation Sans","Noto Sans CJK SC",sans-serif' font-size="53" fill="#111" font-weight="normal" font-style="normal" text-anchor="start" textLength="61.6" lengthAdjust="spacingAndGlyphs">20</text>
<text x="1416.9" y="2857.0" font-family='"Liberation Sans","Noto Sans CJK SC",sans-serif' font-size="53" fill="#111" font-weight="normal" font-style="normal" text-anchor="start" textLength="62.6" lengthAdjust="spacingAndGlyphs">25</text>
<text x="1687.9" y="2857.0" font-family='"Liberation Sans","Noto Sans CJK SC",sans-serif' font-size="53" fill="#111" font-weight="normal" font-style="normal" text-anchor="start" textLength="62.9" lengthAdjust="spacingAndGlyphs">30</text>
<text x="1941.5" y="2857.0" font-family='"Liberation Sans","Noto Sans CJK SC",sans-serif' font-size="53" fill="#111" font-weight="normal" font-style="normal" text-anchor="start" textLength="62.0" lengthAdjust="spacingAndGlyphs">35</text>
<text x="2196.1" y="2857.0" font-family='"Liberation Sans","Noto Sans CJK SC",sans-serif' font-size="53" fill="#111" font-weight="normal" font-style="normal" text-anchor="start" textLength="62.9" lengthAdjust="spacingAndGlyphs">40</text>
<text x="2260.2" y="1878.6" font-family='"Liberation Sans","Noto Sans CJK SC",sans-serif' font-size="49.6" fill="#111" font-weight="normal" font-style="normal" text-anchor="start" textLength="73.2" lengthAdjust="spacingAndGlyphs">AH</text>
<text x="2258.2" y="2110.4" font-family='"Liberation Sans","Noto Sans CJK SC",sans-serif' font-size="51" fill="#111" font-weight="normal" font-style="normal" text-anchor="start" textLength="53.3" lengthAdjust="spacingAndGlyphs">15</text>
<text x="2258.4" y="2342.1" font-family='"Liberation Sans","Noto Sans CJK SC",sans-serif' font-size="51" fill="#111" font-weight="normal" font-style="normal" text-anchor="start" textLength="53.5" lengthAdjust="spacingAndGlyphs">10</text>
<text x="2259.8" y="2573.9" font-family='"Liberation Sans","Noto Sans CJK SC",sans-serif' font-size="51" fill="#111" font-weight="normal" font-style="normal" text-anchor="start" textLength="31.3" lengthAdjust="spacingAndGlyphs">5</text>
<text x="2259.8" y="2806.6" font-family='"Liberation Sans","Noto Sans CJK SC",sans-serif' font-size="51" fill="#111" font-weight="normal" font-style="normal" text-anchor="start" textLength="30.9" lengthAdjust="spacingAndGlyphs">0</text>
<text y="2979.4" font-family='"Liberation Serif",serif' fill="#000"><tspan x="1141.0" font-size="86" font-weight="normal" textLength="27.2" lengthAdjust="spacingAndGlyphs">(</tspan><tspan x="1169.6" font-size="90" font-weight="bold" textLength="49.0" lengthAdjust="spacingAndGlyphs">b</tspan><tspan x="1219.6" font-size="86" font-weight="normal" textLength="26.1" lengthAdjust="spacingAndGlyphs">)</tspan></text>
</svg></body></html>
